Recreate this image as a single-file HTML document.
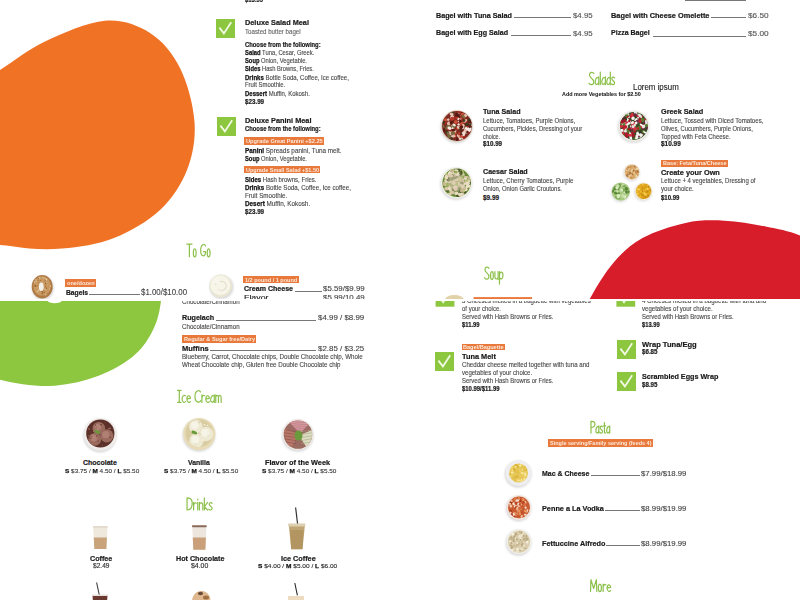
<!DOCTYPE html><html><head><meta charset="utf-8"><style>
*{margin:0;padding:0;box-sizing:border-box}
html,body{width:800px;height:600px;overflow:hidden;background:#fff}
body{position:relative;font-family:"Liberation Sans",sans-serif;}
.tile{position:absolute;overflow:hidden;left:0;width:800px}
.inner{position:absolute;left:0;width:800px;height:600px}
.t{position:absolute;white-space:nowrap;line-height:0;transform-origin:0 0}
.t b{font-weight:bold;color:#141414;-webkit-text-stroke:0.25px #141414}
.h{position:absolute;white-space:nowrap;line-height:0;transform-origin:0 0;color:#8cc43f}
.bd{position:absolute;background:#e8793a;color:#fbe9dc;font-weight:bold;white-space:nowrap;overflow:hidden;line-height:0}
.bd span{position:absolute;left:1.5px;transform-origin:0 0}
.ld{position:absolute;height:1px;background:#777}
svg{position:absolute;overflow:visible}
</style></head><body>
<div class="tile" style="top:0;height:299px"><div class="inner" style="top:0">
<svg style="left:0;top:0" width="0" height="0"><defs><filter id="blur" x="-50%" y="-50%" width="200%" height="200%"><feGaussianBlur stdDeviation="1.2"/></filter><filter id="blur2" x="-50%" y="-50%" width="200%" height="200%"><feGaussianBlur stdDeviation="0.6"/></filter></defs></svg>
<svg style="left:0;top:0" width="800" height="600"><path d="M -40.00 95.00 C -30.00 80.00, -14.17 78.92, 0.00 70.00 C 14.17 61.08, 27.50 49.70, 45.00 41.50 C 62.50 33.30, 87.50 22.22, 105.00 20.80 C 122.50 19.38, 137.50 25.13, 150.00 33.00 C 162.50 40.87, 172.58 53.17, 180.00 68.00 C 187.42 82.83, 193.33 105.00, 194.50 122.00 C 195.67 139.00, 192.75 155.33, 187.00 170.00 C 181.25 184.67, 172.17 198.67, 160.00 210.00 C 147.83 221.33, 130.33 231.57, 114.00 238.00 C 97.67 244.43, 79.00 247.22, 62.00 248.60 C 45.00 249.98, 29.00 249.07, 12.00 246.30 C -5.00 243.53, -28.00 246.38, -40.00 232.00 C -52.00 217.62, -60.00 182.83, -60.00 160.00 C -60.00 137.17, -50.00 110.00, -40.00 95.00 Z" fill="#f07225"/></svg>
<svg style="left:0;top:0" width="800" height="600"><path d="M 570.00 340.00 C 525.00 334.73, 582.72 311.33, 590.00 298.40 C 597.28 285.47, 604.95 272.47, 613.70 262.40 C 622.45 252.33, 630.52 244.58, 642.50 238.00 C 654.48 231.42, 671.95 225.78, 685.60 222.90 C 699.25 220.02, 711.07 220.10, 724.40 220.70 C 737.73 221.30, 753.00 224.05, 765.60 226.50 C 778.20 228.95, 787.60 230.65, 800.00 235.40 C 812.40 240.15, 830.00 239.23, 840.00 255.00 C 850.00 270.77, 905.00 315.83, 860.00 330.00 C 815.00 344.17, 615.00 345.27, 570.00 340.00 Z" fill="#d71c2a"/></svg>
<svg style="left:0;top:0" width="800" height="600"><ellipse cx="42.8" cy="288" rx="11" ry="12.2" fill="rgba(0,0,0,0.14)" filter="url(#blur)"/><ellipse cx="42.2" cy="286.8" rx="10.5" ry="11.7" fill="#b07a45"/><ellipse cx="42" cy="286" rx="8.6" ry="9.8" fill="#c89a62" filter="url(#blur2)"/><ellipse cx="41.25" cy="288.00" rx="0.73" ry="0.83" fill="#e8d0a8" transform="rotate(34 41.25 288.00)"/><ellipse cx="48.28" cy="286.32" rx="0.90" ry="0.45" fill="#c08850" transform="rotate(55 48.28 286.32)"/><ellipse cx="45.28" cy="289.11" rx="0.81" ry="0.82" fill="#dcc090" transform="rotate(11 45.28 289.11)"/><ellipse cx="44.19" cy="292.36" rx="0.72" ry="0.82" fill="#9a6030" transform="rotate(93 44.19 292.36)"/><ellipse cx="45.01" cy="286.80" rx="0.73" ry="0.54" fill="#a06838" transform="rotate(180 45.01 286.80)"/><ellipse cx="46.36" cy="283.11" rx="0.76" ry="0.41" fill="#dcc090" transform="rotate(101 46.36 283.11)"/><ellipse cx="38.02" cy="278.14" rx="0.92" ry="0.40" fill="#a06838" transform="rotate(38 38.02 278.14)"/><ellipse cx="50.41" cy="286.20" rx="0.71" ry="0.68" fill="#e8d0a8" transform="rotate(36 50.41 286.20)"/><ellipse cx="45.70" cy="283.54" rx="0.67" ry="0.88" fill="#9a6030" transform="rotate(136 45.70 283.54)"/><ellipse cx="34.56" cy="281.73" rx="0.51" ry="0.63" fill="#a06838" transform="rotate(88 34.56 281.73)"/><ellipse cx="45.84" cy="280.57" rx="0.60" ry="0.77" fill="#c08850" transform="rotate(24 45.84 280.57)"/><ellipse cx="45.07" cy="279.13" rx="1.00" ry="0.40" fill="#e8d0a8" transform="rotate(156 45.07 279.13)"/><ellipse cx="51.70" cy="288.65" rx="0.61" ry="0.60" fill="#a06838" transform="rotate(154 51.70 288.65)"/><ellipse cx="45.04" cy="278.81" rx="0.61" ry="0.53" fill="#dcc090" transform="rotate(139 45.04 278.81)"/><ellipse cx="38.78" cy="282.73" rx="0.54" ry="0.50" fill="#a06838" transform="rotate(115 38.78 282.73)"/><ellipse cx="44.64" cy="279.34" rx="0.74" ry="0.69" fill="#c08850" transform="rotate(156 44.64 279.34)"/><ellipse cx="35.86" cy="279.88" rx="0.91" ry="0.52" fill="#dcc090" transform="rotate(34 35.86 279.88)"/><ellipse cx="49.84" cy="288.87" rx="0.52" ry="0.45" fill="#e8d0a8" transform="rotate(92 49.84 288.87)"/><ellipse cx="37.30" cy="291.60" rx="0.63" ry="0.81" fill="#e8d0a8" transform="rotate(107 37.30 291.60)"/><ellipse cx="38.07" cy="280.31" rx="0.56" ry="0.64" fill="#a06838" transform="rotate(118 38.07 280.31)"/><ellipse cx="44.52" cy="278.28" rx="0.96" ry="0.50" fill="#dcc090" transform="rotate(3 44.52 278.28)"/><ellipse cx="37.58" cy="285.71" rx="0.52" ry="0.54" fill="#a06838" transform="rotate(96 37.58 285.71)"/><ellipse cx="34.97" cy="285.81" rx="0.83" ry="0.75" fill="#9a6030" transform="rotate(105 34.97 285.81)"/><ellipse cx="41.84" cy="291.41" rx="0.57" ry="0.44" fill="#9a6030" transform="rotate(82 41.84 291.41)"/><ellipse cx="39.56" cy="277.69" rx="0.90" ry="0.86" fill="#dcc090" transform="rotate(63 39.56 277.69)"/><ellipse cx="45.90" cy="294.82" rx="0.97" ry="0.42" fill="#e8d0a8" transform="rotate(90 45.90 294.82)"/><ellipse cx="34.51" cy="281.94" rx="0.86" ry="0.59" fill="#e8d0a8" transform="rotate(132 34.51 281.94)"/><ellipse cx="43.82" cy="285.61" rx="0.54" ry="0.78" fill="#c08850" transform="rotate(5 43.82 285.61)"/><ellipse cx="44.23" cy="286.42" rx="0.98" ry="0.46" fill="#dcc090" transform="rotate(140 44.23 286.42)"/><ellipse cx="45.40" cy="286.53" rx="0.68" ry="0.47" fill="#a06838" transform="rotate(110 45.40 286.53)"/><ellipse cx="42.57" cy="291.88" rx="0.83" ry="0.62" fill="#9a6030" transform="rotate(161 42.57 291.88)"/><ellipse cx="38.74" cy="290.12" rx="0.82" ry="0.80" fill="#dcc090" transform="rotate(136 38.74 290.12)"/><ellipse cx="36.21" cy="281.08" rx="0.79" ry="0.56" fill="#dcc090" transform="rotate(25 36.21 281.08)"/><ellipse cx="42.13" cy="293.54" rx="0.86" ry="0.88" fill="#a06838" transform="rotate(50 42.13 293.54)"/><ellipse cx="35.58" cy="285.81" rx="0.96" ry="0.82" fill="#9a6030" transform="rotate(69 35.58 285.81)"/><ellipse cx="42.60" cy="290.24" rx="0.73" ry="0.44" fill="#c08850" transform="rotate(6 42.60 290.24)"/><ellipse cx="46.37" cy="288.21" rx="0.82" ry="0.68" fill="#9a6030" transform="rotate(115 46.37 288.21)"/><ellipse cx="40.30" cy="280.60" rx="0.62" ry="0.47" fill="#9a6030" transform="rotate(8 40.30 280.60)"/><ellipse cx="44.78" cy="285.73" rx="0.83" ry="0.80" fill="#c08850" transform="rotate(173 44.78 285.73)"/><ellipse cx="45.89" cy="280.79" rx="0.63" ry="0.76" fill="#e8d0a8" transform="rotate(136 45.89 280.79)"/><ellipse cx="42.90" cy="277.52" rx="0.64" ry="0.57" fill="#dcc090" transform="rotate(126 42.90 277.52)"/><ellipse cx="42.61" cy="289.09" rx="0.70" ry="0.80" fill="#dcc090" transform="rotate(163 42.61 289.09)"/><ellipse cx="46.65" cy="279.40" rx="0.60" ry="0.84" fill="#e8d0a8" transform="rotate(1 46.65 279.40)"/><ellipse cx="43.20" cy="289.85" rx="0.90" ry="0.87" fill="#c08850" transform="rotate(83 43.20 289.85)"/><ellipse cx="45.23" cy="280.90" rx="0.61" ry="0.85" fill="#a06838" transform="rotate(176 45.23 280.90)"/><ellipse cx="41.3" cy="286.7" rx="2.4" ry="4.3" fill="#f2f0e8"/></svg>
<svg style="left:0;top:0" width="800" height="600"><circle cx="221.5" cy="287.2" r="11.8" fill="rgba(0,0,0,0.16)" filter="url(#blur)"/><circle cx="220.8" cy="286" r="11.4" fill="#e8e6d2"/><circle cx="220.3" cy="285.3" r="10" fill="#f6f5e8" filter="url(#blur2)"/><path d="M215 285 C 217 280, 225 280, 226 285 C 227 290, 221 292, 218.5 289" fill="none" stroke="#e2dfcc" stroke-width="1.1" filter="url(#blur2)"/><circle cx="217" cy="281" r="2.6" fill="#f8f7ee" filter="url(#blur2)"/></svg>
<svg style="left:0;top:0" width="800" height="600"><ellipse cx="454.4" cy="299.8" rx="9.6" ry="4.8" fill="#e2d2a8" filter="url(#blur2)"/><rect x="473.5" y="297.1" width="58.5" height="1.9" fill="#e8793a"/></svg>
<svg style="left:0;top:0" width="800" height="600"><defs><clipPath id="c1"><circle cx="457.00" cy="126.00" r="14.90"/></clipPath></defs><circle cx="456.50" cy="127.20" r="16.00" fill="rgba(0,0,0,0.15)" filter="url(#blur)"/><circle cx="457.00" cy="126.00" r="15.70" fill="#e0c8b8"/><circle cx="457.00" cy="126.00" r="14.90" fill="#7a2c22"/><g clip-path="url(#c1)"><ellipse cx="464.86" cy="118.70" rx="2.03" ry="1.46" fill="#a02a20" transform="rotate(68 464.86 118.70)"/><ellipse cx="448.36" cy="125.64" rx="1.65" ry="1.80" fill="#7a6a40" transform="rotate(0 448.36 125.64)"/><ellipse cx="455.37" cy="132.60" rx="1.83" ry="1.04" fill="#c85038" transform="rotate(57 455.37 132.60)"/><ellipse cx="463.73" cy="126.82" rx="2.23" ry="1.56" fill="#a02a20" transform="rotate(62 463.73 126.82)"/><ellipse cx="462.27" cy="133.78" rx="2.22" ry="1.40" fill="#5a1a14" transform="rotate(165 462.27 133.78)"/><ellipse cx="460.85" cy="132.66" rx="1.29" ry="1.30" fill="#5a1a14" transform="rotate(130 460.85 132.66)"/><ellipse cx="454.68" cy="135.84" rx="1.50" ry="1.60" fill="#c85038" transform="rotate(159 454.68 135.84)"/><ellipse cx="467.32" cy="126.16" rx="1.70" ry="1.78" fill="#b83a2a" transform="rotate(73 467.32 126.16)"/><ellipse cx="461.91" cy="122.04" rx="1.25" ry="1.68" fill="#f4ece6" transform="rotate(19 461.91 122.04)"/><ellipse cx="453.14" cy="132.94" rx="1.20" ry="1.73" fill="#a02a20" transform="rotate(177 453.14 132.94)"/><ellipse cx="459.78" cy="122.83" rx="1.34" ry="1.18" fill="#3a3a20" transform="rotate(2 459.78 122.83)"/><ellipse cx="458.44" cy="123.15" rx="2.25" ry="1.58" fill="#f4ece6" transform="rotate(83 458.44 123.15)"/><ellipse cx="450.12" cy="127.43" rx="1.59" ry="1.91" fill="#b83a2a" transform="rotate(172 450.12 127.43)"/><ellipse cx="470.07" cy="126.37" rx="1.75" ry="1.57" fill="#3a3a20" transform="rotate(77 470.07 126.37)"/><ellipse cx="459.09" cy="117.06" rx="1.63" ry="1.86" fill="#e8c0b0" transform="rotate(75 459.09 117.06)"/><ellipse cx="465.54" cy="120.97" rx="2.08" ry="1.65" fill="#b83a2a" transform="rotate(99 465.54 120.97)"/><ellipse cx="458.52" cy="136.47" rx="1.19" ry="2.01" fill="#5a1a14" transform="rotate(13 458.52 136.47)"/><ellipse cx="467.97" cy="124.60" rx="1.44" ry="1.05" fill="#5a1a14" transform="rotate(112 467.97 124.60)"/><ellipse cx="452.36" cy="113.17" rx="1.44" ry="2.01" fill="#3a3a20" transform="rotate(118 452.36 113.17)"/><ellipse cx="461.42" cy="119.88" rx="1.72" ry="1.05" fill="#f4ece6" transform="rotate(56 461.42 119.88)"/><ellipse cx="452.33" cy="134.83" rx="1.28" ry="1.95" fill="#5a1a14" transform="rotate(92 452.33 134.83)"/><ellipse cx="448.33" cy="129.15" rx="1.41" ry="1.38" fill="#b83a2a" transform="rotate(6 448.33 129.15)"/><ellipse cx="470.70" cy="124.38" rx="1.93" ry="1.55" fill="#e8c0b0" transform="rotate(40 470.70 124.38)"/><ellipse cx="457.49" cy="117.75" rx="1.60" ry="1.58" fill="#b83a2a" transform="rotate(58 457.49 117.75)"/><ellipse cx="460.90" cy="112.85" rx="1.29" ry="1.16" fill="#5a1a14" transform="rotate(9 460.90 112.85)"/><ellipse cx="469.43" cy="119.98" rx="1.63" ry="1.21" fill="#3a3a20" transform="rotate(2 469.43 119.98)"/><ellipse cx="459.09" cy="116.21" rx="1.19" ry="1.15" fill="#e8c0b0" transform="rotate(18 459.09 116.21)"/><ellipse cx="459.19" cy="137.82" rx="1.72" ry="2.00" fill="#c85038" transform="rotate(70 459.19 137.82)"/><ellipse cx="460.34" cy="123.09" rx="1.17" ry="1.15" fill="#5a1a14" transform="rotate(59 460.34 123.09)"/><ellipse cx="452.21" cy="117.45" rx="2.11" ry="1.99" fill="#ecdcd4" transform="rotate(62 452.21 117.45)"/><ellipse cx="468.40" cy="131.58" rx="2.03" ry="1.53" fill="#a02a20" transform="rotate(12 468.40 131.58)"/><ellipse cx="447.06" cy="127.14" rx="2.02" ry="1.61" fill="#5a1a14" transform="rotate(151 447.06 127.14)"/><ellipse cx="453.07" cy="121.24" rx="1.42" ry="2.01" fill="#5a1a14" transform="rotate(140 453.07 121.24)"/><ellipse cx="463.41" cy="125.67" rx="2.04" ry="1.29" fill="#e8c0b0" transform="rotate(73 463.41 125.67)"/><ellipse cx="445.52" cy="128.60" rx="1.24" ry="1.55" fill="#7a6a40" transform="rotate(102 445.52 128.60)"/><ellipse cx="470.48" cy="121.97" rx="1.80" ry="1.98" fill="#5a1a14" transform="rotate(82 470.48 121.97)"/><ellipse cx="450.36" cy="134.55" rx="1.16" ry="1.69" fill="#5a1a14" transform="rotate(17 450.36 134.55)"/><ellipse cx="449.29" cy="133.27" rx="1.65" ry="2.03" fill="#ecdcd4" transform="rotate(145 449.29 133.27)"/><ellipse cx="458.28" cy="135.49" rx="1.44" ry="1.47" fill="#e8c0b0" transform="rotate(18 458.28 135.49)"/><ellipse cx="450.91" cy="128.88" rx="1.60" ry="1.38" fill="#a02a20" transform="rotate(12 450.91 128.88)"/><ellipse cx="451.56" cy="129.02" rx="1.28" ry="1.17" fill="#a02a20" transform="rotate(111 451.56 129.02)"/><ellipse cx="462.61" cy="130.82" rx="1.36" ry="1.16" fill="#5a1a14" transform="rotate(36 462.61 130.82)"/><ellipse cx="452.84" cy="135.54" rx="2.28" ry="1.44" fill="#ecdcd4" transform="rotate(117 452.84 135.54)"/><ellipse cx="461.28" cy="139.13" rx="2.26" ry="0.97" fill="#7a6a40" transform="rotate(34 461.28 139.13)"/><ellipse cx="465.72" cy="128.35" rx="1.43" ry="1.04" fill="#5a1a14" transform="rotate(110 465.72 128.35)"/><ellipse cx="448.66" cy="135.19" rx="1.23" ry="1.55" fill="#7a6a40" transform="rotate(13 448.66 135.19)"/><ellipse cx="444.34" cy="130.03" rx="2.01" ry="1.33" fill="#5a1a14" transform="rotate(84 444.34 130.03)"/><ellipse cx="465.28" cy="120.88" rx="2.24" ry="1.12" fill="#e8c0b0" transform="rotate(140 465.28 120.88)"/><ellipse cx="451.63" cy="114.28" rx="2.11" ry="1.61" fill="#e8c0b0" transform="rotate(23 451.63 114.28)"/><ellipse cx="448.26" cy="127.36" rx="2.05" ry="1.86" fill="#b83a2a" transform="rotate(112 448.26 127.36)"/><ellipse cx="462.13" cy="127.58" rx="1.35" ry="1.42" fill="#c85038" transform="rotate(28 462.13 127.58)"/><ellipse cx="463.40" cy="131.00" rx="2.04" ry="1.70" fill="#5a1a14" transform="rotate(80 463.40 131.00)"/><ellipse cx="454.92" cy="118.56" rx="2.13" ry="1.44" fill="#a02a20" transform="rotate(71 454.92 118.56)"/><ellipse cx="452.19" cy="118.79" rx="2.06" ry="1.99" fill="#b83a2a" transform="rotate(176 452.19 118.79)"/><ellipse cx="459.39" cy="128.79" rx="1.45" ry="1.87" fill="#3a3a20" transform="rotate(72 459.39 128.79)"/><ellipse cx="454.05" cy="129.35" rx="1.71" ry="1.12" fill="#c85038" transform="rotate(57 454.05 129.35)"/><ellipse cx="469.82" cy="130.15" rx="1.42" ry="1.49" fill="#c85038" transform="rotate(86 469.82 130.15)"/><ellipse cx="448.81" cy="123.38" rx="1.85" ry="1.76" fill="#e8c0b0" transform="rotate(118 448.81 123.38)"/><ellipse cx="461.33" cy="122.09" rx="2.03" ry="1.94" fill="#e8c0b0" transform="rotate(56 461.33 122.09)"/><ellipse cx="462.74" cy="136.40" rx="1.34" ry="1.73" fill="#f4ece6" transform="rotate(84 462.74 136.40)"/><ellipse cx="460.16" cy="126.42" rx="1.35" ry="1.21" fill="#7a6a40" transform="rotate(39 460.16 126.42)"/><ellipse cx="459.07" cy="133.68" rx="1.72" ry="1.37" fill="#b83a2a" transform="rotate(115 459.07 133.68)"/><ellipse cx="453.54" cy="136.29" rx="1.99" ry="0.97" fill="#e8c0b0" transform="rotate(177 453.54 136.29)"/><ellipse cx="466.18" cy="129.83" rx="2.00" ry="1.02" fill="#5a1a14" transform="rotate(175 466.18 129.83)"/><ellipse cx="449.28" cy="136.46" rx="1.61" ry="1.97" fill="#7a6a40" transform="rotate(79 449.28 136.46)"/><ellipse cx="460.65" cy="125.64" rx="1.29" ry="1.61" fill="#c85038" transform="rotate(73 460.65 125.64)"/><ellipse cx="445.62" cy="119.91" rx="1.59" ry="1.56" fill="#c85038" transform="rotate(173 445.62 119.91)"/><ellipse cx="457.85" cy="128.36" rx="1.87" ry="1.62" fill="#b83a2a" transform="rotate(150 457.85 128.36)"/><ellipse cx="448.26" cy="119.59" rx="1.38" ry="1.28" fill="#e8c0b0" transform="rotate(136 448.26 119.59)"/><ellipse cx="466.90" cy="124.40" rx="1.78" ry="1.48" fill="#3a3a20" transform="rotate(154 466.90 124.40)"/><ellipse cx="465.02" cy="128.10" rx="1.39" ry="1.85" fill="#7a6a40" transform="rotate(163 465.02 128.10)"/><ellipse cx="462.18" cy="132.68" rx="1.24" ry="1.35" fill="#3a3a20" transform="rotate(145 462.18 132.68)"/><ellipse cx="455.13" cy="131.28" rx="1.52" ry="1.06" fill="#e8c0b0" transform="rotate(129 455.13 131.28)"/><ellipse cx="452.54" cy="127.17" rx="2.05" ry="1.71" fill="#f4ece6" transform="rotate(89 452.54 127.17)"/><ellipse cx="461.40" cy="122.35" rx="1.79" ry="2.06" fill="#c85038" transform="rotate(114 461.40 122.35)"/><ellipse cx="463.62" cy="133.11" rx="1.38" ry="1.98" fill="#e8c0b0" transform="rotate(108 463.62 133.11)"/><ellipse cx="457.50" cy="139.04" rx="1.96" ry="1.44" fill="#5a1a14" transform="rotate(120 457.50 139.04)"/><ellipse cx="447.98" cy="126.78" rx="1.82" ry="2.04" fill="#7a6a40" transform="rotate(60 447.98 126.78)"/><ellipse cx="463.59" cy="115.75" rx="2.05" ry="1.89" fill="#7a6a40" transform="rotate(138 463.59 115.75)"/><ellipse cx="466.40" cy="129.14" rx="2.20" ry="1.84" fill="#f4ece6" transform="rotate(74 466.40 129.14)"/><ellipse cx="462.51" cy="120.15" rx="2.11" ry="1.48" fill="#a02a20" transform="rotate(84 462.51 120.15)"/><ellipse cx="443.45" cy="126.31" rx="1.23" ry="1.00" fill="#7a6a40" transform="rotate(80 443.45 126.31)"/><ellipse cx="446.99" cy="132.27" rx="1.94" ry="1.38" fill="#3a3a20" transform="rotate(124 446.99 132.27)"/><ellipse cx="460.13" cy="117.32" rx="1.42" ry="1.30" fill="#c85038" transform="rotate(12 460.13 117.32)"/><ellipse cx="462.94" cy="138.23" rx="1.69" ry="1.56" fill="#f4ece6" transform="rotate(9 462.94 138.23)"/><ellipse cx="450.95" cy="133.01" rx="1.46" ry="1.62" fill="#e8c0b0" transform="rotate(42 450.95 133.01)"/><ellipse cx="458.82" cy="116.24" rx="2.15" ry="1.30" fill="#5a1a14" transform="rotate(40 458.82 116.24)"/><ellipse cx="468.90" cy="129.65" rx="2.22" ry="1.99" fill="#f4ece6" transform="rotate(45 468.90 129.65)"/><ellipse cx="463.92" cy="137.06" rx="1.82" ry="1.99" fill="#a02a20" transform="rotate(27 463.92 137.06)"/><ellipse cx="470.28" cy="124.79" rx="1.31" ry="1.08" fill="#3a3a20" transform="rotate(129 470.28 124.79)"/><ellipse cx="452.86" cy="133.49" rx="1.28" ry="1.16" fill="#c85038" transform="rotate(123 452.86 133.49)"/><ellipse cx="451.68" cy="138.77" rx="1.20" ry="1.85" fill="#3a3a20" transform="rotate(4 451.68 138.77)"/><ellipse cx="464.52" cy="131.46" rx="1.96" ry="1.86" fill="#a02a20" transform="rotate(174 464.52 131.46)"/><ellipse cx="460.37" cy="121.30" rx="1.29" ry="1.72" fill="#5a1a14" transform="rotate(17 460.37 121.30)"/><ellipse cx="454.01" cy="125.85" rx="2.01" ry="2.04" fill="#7a6a40" transform="rotate(42 454.01 125.85)"/><ellipse cx="450.55" cy="127.40" rx="1.39" ry="1.74" fill="#7a6a40" transform="rotate(59 450.55 127.40)"/><ellipse cx="459.79" cy="138.20" rx="1.20" ry="1.84" fill="#ecdcd4" transform="rotate(154 459.79 138.20)"/><ellipse cx="451.62" cy="122.52" rx="2.21" ry="1.38" fill="#5a1a14" transform="rotate(158 451.62 122.52)"/><ellipse cx="464.71" cy="115.64" rx="1.17" ry="1.09" fill="#b83a2a" transform="rotate(120 464.71 115.64)"/><ellipse cx="443.80" cy="122.41" rx="1.24" ry="1.67" fill="#3a3a20" transform="rotate(55 443.80 122.41)"/><ellipse cx="457.74" cy="114.94" rx="2.05" ry="1.42" fill="#5a1a14" transform="rotate(34 457.74 114.94)"/><ellipse cx="456.99" cy="114.98" rx="1.94" ry="1.89" fill="#5a1a14" transform="rotate(119 456.99 114.98)"/><ellipse cx="453.71" cy="129.91" rx="1.89" ry="1.20" fill="#5a1a14" transform="rotate(11 453.71 129.91)"/><ellipse cx="469.97" cy="128.70" rx="1.64" ry="1.72" fill="#f4ece6" transform="rotate(115 469.97 128.70)"/><ellipse cx="458.40" cy="127.14" rx="1.64" ry="1.68" fill="#e8c0b0" transform="rotate(128 458.40 127.14)"/><ellipse cx="464.25" cy="132.59" rx="1.44" ry="2.04" fill="#ecdcd4" transform="rotate(27 464.25 132.59)"/><ellipse cx="456.08" cy="122.13" rx="1.20" ry="1.53" fill="#f4ece6" transform="rotate(80 456.08 122.13)"/><ellipse cx="445.92" cy="122.88" rx="1.18" ry="1.52" fill="#a02a20" transform="rotate(16 445.92 122.88)"/><ellipse cx="463.93" cy="120.43" rx="1.45" ry="1.36" fill="#3a3a20" transform="rotate(21 463.93 120.43)"/><ellipse cx="462.30" cy="113.90" rx="1.73" ry="1.16" fill="#c85038" transform="rotate(166 462.30 113.90)"/><ellipse cx="457.28" cy="122.75" rx="1.27" ry="1.67" fill="#a02a20" transform="rotate(81 457.28 122.75)"/><ellipse cx="466.98" cy="132.00" rx="1.18" ry="2.05" fill="#e8c0b0" transform="rotate(178 466.98 132.00)"/><ellipse cx="464.25" cy="117.06" rx="1.75" ry="1.03" fill="#7a6a40" transform="rotate(62 464.25 117.06)"/><ellipse cx="459.23" cy="112.40" rx="1.51" ry="1.26" fill="#e8c0b0" transform="rotate(63 459.23 112.40)"/><ellipse cx="451.79" cy="133.41" rx="1.16" ry="1.06" fill="#e8c0b0" transform="rotate(57 451.79 133.41)"/><ellipse cx="463.76" cy="134.48" rx="1.67" ry="1.24" fill="#ecdcd4" transform="rotate(82 463.76 134.48)"/><ellipse cx="452.95" cy="133.20" rx="2.09" ry="1.98" fill="#7a6a40" transform="rotate(166 452.95 133.20)"/><ellipse cx="465.98" cy="115.11" rx="1.72" ry="1.90" fill="#e8c0b0" transform="rotate(45 465.98 115.11)"/><ellipse cx="449.41" cy="128.20" rx="1.57" ry="2.00" fill="#f4ece6" transform="rotate(116 449.41 128.20)"/><ellipse cx="454.10" cy="124.94" rx="1.76" ry="1.11" fill="#f4ece6" transform="rotate(27 454.10 124.94)"/><ellipse cx="462.58" cy="127.87" rx="1.36" ry="1.39" fill="#ecdcd4" transform="rotate(131 462.58 127.87)"/><ellipse cx="458.36" cy="119.02" rx="1.38" ry="1.00" fill="#ecdcd4" transform="rotate(103 458.36 119.02)"/><ellipse cx="461.20" cy="136.58" rx="1.89" ry="1.12" fill="#c85038" transform="rotate(155 461.20 136.58)"/><ellipse cx="467.36" cy="132.27" rx="1.40" ry="1.15" fill="#5a1a14" transform="rotate(89 467.36 132.27)"/><ellipse cx="455.58" cy="122.04" rx="2.07" ry="1.75" fill="#c85038" transform="rotate(147 455.58 122.04)"/><ellipse cx="448.10" cy="133.35" rx="1.74" ry="1.48" fill="#7a6a40" transform="rotate(73 448.10 133.35)"/><ellipse cx="459.52" cy="112.30" rx="1.16" ry="2.02" fill="#a02a20" transform="rotate(125 459.52 112.30)"/><ellipse cx="461.23" cy="127.22" rx="1.74" ry="2.06" fill="#5a1a14" transform="rotate(57 461.23 127.22)"/><ellipse cx="465.24" cy="130.32" rx="1.47" ry="1.39" fill="#e8c0b0" transform="rotate(169 465.24 130.32)"/><ellipse cx="469.72" cy="126.53" rx="1.67" ry="1.07" fill="#5a1a14" transform="rotate(80 469.72 126.53)"/></g></svg>
<svg style="left:0;top:0" width="800" height="600"><defs><clipPath id="c2"><circle cx="456.60" cy="182.80" r="14.20"/></clipPath></defs><circle cx="456.10" cy="184.00" r="15.90" fill="rgba(0,0,0,0.15)" filter="url(#blur)"/><circle cx="456.60" cy="182.80" r="15.60" fill="#f0f0e6"/><circle cx="456.60" cy="182.80" r="14.20" fill="#6a8a3a"/><g clip-path="url(#c2)"><ellipse cx="466.13" cy="189.50" rx="1.63" ry="1.32" fill="#b8c078" transform="rotate(6 466.13 189.50)"/><ellipse cx="460.53" cy="191.42" rx="2.01" ry="1.62" fill="#c8b890" transform="rotate(48 460.53 191.42)"/><ellipse cx="455.60" cy="177.64" rx="1.85" ry="2.19" fill="#4a5a28" transform="rotate(30 455.60 177.64)"/><ellipse cx="447.44" cy="175.15" rx="1.72" ry="1.22" fill="#8aa848" transform="rotate(92 447.44 175.15)"/><ellipse cx="465.03" cy="189.46" rx="2.33" ry="1.50" fill="#c8b890" transform="rotate(177 465.03 189.46)"/><ellipse cx="463.81" cy="188.91" rx="2.15" ry="1.36" fill="#e0d4b8" transform="rotate(50 463.81 188.91)"/><ellipse cx="456.55" cy="183.24" rx="2.16" ry="1.63" fill="#c8b890" transform="rotate(163 456.55 183.24)"/><ellipse cx="452.36" cy="189.22" rx="1.93" ry="1.33" fill="#e0d4b8" transform="rotate(58 452.36 189.22)"/><ellipse cx="462.27" cy="173.32" rx="2.30" ry="1.66" fill="#b8c078" transform="rotate(55 462.27 173.32)"/><ellipse cx="465.10" cy="192.20" rx="1.71" ry="1.31" fill="#4a5a28" transform="rotate(92 465.10 192.20)"/><ellipse cx="468.93" cy="186.30" rx="2.32" ry="1.48" fill="#e8dcc0" transform="rotate(2 468.93 186.30)"/><ellipse cx="445.41" cy="184.91" rx="1.66" ry="1.33" fill="#d8c8a8" transform="rotate(158 445.41 184.91)"/><ellipse cx="445.42" cy="183.44" rx="1.62" ry="1.31" fill="#b8c078" transform="rotate(159 445.42 183.44)"/><ellipse cx="454.41" cy="188.96" rx="1.37" ry="1.51" fill="#d8c8a8" transform="rotate(45 454.41 188.96)"/><ellipse cx="468.49" cy="179.20" rx="2.36" ry="1.24" fill="#8aa848" transform="rotate(33 468.49 179.20)"/><ellipse cx="462.04" cy="179.55" rx="2.33" ry="1.36" fill="#d8c8a8" transform="rotate(175 462.04 179.55)"/><ellipse cx="460.23" cy="189.83" rx="1.74" ry="1.08" fill="#b8c078" transform="rotate(81 460.23 189.83)"/><ellipse cx="464.15" cy="189.61" rx="2.28" ry="2.16" fill="#b8c078" transform="rotate(127 464.15 189.61)"/><ellipse cx="455.83" cy="175.00" rx="2.39" ry="1.07" fill="#c8b890" transform="rotate(142 455.83 175.00)"/><ellipse cx="469.33" cy="183.32" rx="1.93" ry="1.47" fill="#4a5a28" transform="rotate(157 469.33 183.32)"/><ellipse cx="452.09" cy="176.04" rx="2.15" ry="1.95" fill="#4a5a28" transform="rotate(173 452.09 176.04)"/><ellipse cx="461.44" cy="175.78" rx="1.51" ry="1.16" fill="#8aa848" transform="rotate(114 461.44 175.78)"/><ellipse cx="449.00" cy="181.23" rx="1.40" ry="1.34" fill="#b8c078" transform="rotate(142 449.00 181.23)"/><ellipse cx="460.12" cy="178.82" rx="1.66" ry="2.02" fill="#4a5a28" transform="rotate(27 460.12 178.82)"/><ellipse cx="453.33" cy="173.15" rx="1.61" ry="1.17" fill="#e8dcc0" transform="rotate(33 453.33 173.15)"/><ellipse cx="448.98" cy="174.77" rx="1.89" ry="1.74" fill="#e0d4b8" transform="rotate(68 448.98 174.77)"/><ellipse cx="461.85" cy="190.20" rx="2.25" ry="1.60" fill="#f0e4d0" transform="rotate(92 461.85 190.20)"/><ellipse cx="458.90" cy="170.06" rx="2.51" ry="1.80" fill="#4a5a28" transform="rotate(166 458.90 170.06)"/><ellipse cx="461.24" cy="182.23" rx="1.97" ry="2.24" fill="#d8c8a8" transform="rotate(110 461.24 182.23)"/><ellipse cx="461.86" cy="171.47" rx="1.56" ry="2.05" fill="#b8c078" transform="rotate(149 461.86 171.47)"/><ellipse cx="460.50" cy="181.76" rx="1.31" ry="1.07" fill="#e8dcc0" transform="rotate(55 460.50 181.76)"/><ellipse cx="462.95" cy="174.82" rx="1.55" ry="1.78" fill="#e0d4b8" transform="rotate(71 462.95 174.82)"/><ellipse cx="455.56" cy="190.00" rx="2.45" ry="1.37" fill="#4a5a28" transform="rotate(22 455.56 190.00)"/><ellipse cx="459.91" cy="178.10" rx="2.55" ry="1.94" fill="#4a5a28" transform="rotate(4 459.91 178.10)"/><ellipse cx="461.12" cy="190.67" rx="1.68" ry="2.29" fill="#e0d4b8" transform="rotate(25 461.12 190.67)"/><ellipse cx="453.05" cy="182.35" rx="2.24" ry="1.99" fill="#e0d4b8" transform="rotate(75 453.05 182.35)"/><ellipse cx="456.38" cy="187.92" rx="1.60" ry="1.68" fill="#4a5a28" transform="rotate(47 456.38 187.92)"/><ellipse cx="454.55" cy="187.89" rx="2.06" ry="2.10" fill="#e8dcc0" transform="rotate(17 454.55 187.89)"/><ellipse cx="446.56" cy="180.44" rx="2.34" ry="2.22" fill="#e8dcc0" transform="rotate(123 446.56 180.44)"/><ellipse cx="462.52" cy="193.74" rx="1.87" ry="1.72" fill="#c8b890" transform="rotate(20 462.52 193.74)"/><ellipse cx="457.76" cy="195.58" rx="1.43" ry="1.71" fill="#4a5a28" transform="rotate(129 457.76 195.58)"/><ellipse cx="449.71" cy="194.02" rx="2.53" ry="1.34" fill="#e0d4b8" transform="rotate(157 449.71 194.02)"/><ellipse cx="452.58" cy="190.31" rx="1.91" ry="1.97" fill="#8aa848" transform="rotate(146 452.58 190.31)"/><ellipse cx="453.28" cy="189.52" rx="1.96" ry="1.67" fill="#4a5a28" transform="rotate(73 453.28 189.52)"/><ellipse cx="462.43" cy="182.02" rx="2.23" ry="2.23" fill="#c8b890" transform="rotate(15 462.43 182.02)"/><ellipse cx="465.68" cy="189.21" rx="1.82" ry="1.91" fill="#f0e4d0" transform="rotate(176 465.68 189.21)"/><ellipse cx="455.59" cy="188.81" rx="2.15" ry="2.10" fill="#e0d4b8" transform="rotate(3 455.59 188.81)"/><ellipse cx="459.62" cy="194.31" rx="1.81" ry="1.77" fill="#e8dcc0" transform="rotate(144 459.62 194.31)"/><ellipse cx="458.88" cy="182.51" rx="1.31" ry="1.92" fill="#8aa848" transform="rotate(87 458.88 182.51)"/><ellipse cx="456.98" cy="173.53" rx="2.56" ry="2.03" fill="#f0e4d0" transform="rotate(63 456.98 173.53)"/><ellipse cx="468.12" cy="183.74" rx="2.28" ry="1.67" fill="#e8dcc0" transform="rotate(121 468.12 183.74)"/><ellipse cx="451.91" cy="176.18" rx="1.34" ry="1.14" fill="#e0d4b8" transform="rotate(136 451.91 176.18)"/><ellipse cx="447.33" cy="189.91" rx="1.63" ry="1.85" fill="#4a5a28" transform="rotate(150 447.33 189.91)"/><ellipse cx="461.59" cy="173.03" rx="2.02" ry="2.30" fill="#b8c078" transform="rotate(66 461.59 173.03)"/><ellipse cx="457.68" cy="179.46" rx="1.57" ry="1.92" fill="#e0d4b8" transform="rotate(90 457.68 179.46)"/><ellipse cx="446.19" cy="188.19" rx="1.40" ry="2.11" fill="#b8c078" transform="rotate(55 446.19 188.19)"/><ellipse cx="460.76" cy="191.20" rx="1.97" ry="2.24" fill="#4a5a28" transform="rotate(92 460.76 191.20)"/><ellipse cx="448.38" cy="185.53" rx="2.34" ry="1.86" fill="#8aa848" transform="rotate(55 448.38 185.53)"/><ellipse cx="449.01" cy="181.59" rx="1.98" ry="1.12" fill="#f0e4d0" transform="rotate(20 449.01 181.59)"/><ellipse cx="461.58" cy="190.96" rx="1.58" ry="1.50" fill="#c8b890" transform="rotate(60 461.58 190.96)"/><ellipse cx="452.70" cy="182.73" rx="1.90" ry="1.21" fill="#b8c078" transform="rotate(129 452.70 182.73)"/><ellipse cx="450.15" cy="173.12" rx="1.91" ry="2.02" fill="#f0e4d0" transform="rotate(152 450.15 173.12)"/><ellipse cx="446.24" cy="176.23" rx="1.82" ry="2.11" fill="#4a5a28" transform="rotate(62 446.24 176.23)"/><ellipse cx="456.67" cy="188.20" rx="2.27" ry="2.02" fill="#c8b890" transform="rotate(156 456.67 188.20)"/><ellipse cx="460.08" cy="187.65" rx="1.70" ry="1.67" fill="#c8b890" transform="rotate(46 460.08 187.65)"/><ellipse cx="468.00" cy="181.12" rx="2.46" ry="1.28" fill="#e8dcc0" transform="rotate(173 468.00 181.12)"/><ellipse cx="452.36" cy="178.80" rx="1.31" ry="1.46" fill="#4a5a28" transform="rotate(149 452.36 178.80)"/><ellipse cx="459.29" cy="183.97" rx="2.13" ry="1.24" fill="#e0d4b8" transform="rotate(57 459.29 183.97)"/><ellipse cx="446.44" cy="174.40" rx="1.48" ry="1.51" fill="#b8c078" transform="rotate(16 446.44 174.40)"/><ellipse cx="447.73" cy="188.69" rx="1.74" ry="1.52" fill="#d8c8a8" transform="rotate(138 447.73 188.69)"/><ellipse cx="466.56" cy="180.81" rx="1.47" ry="1.72" fill="#b8c078" transform="rotate(152 466.56 180.81)"/><ellipse cx="452.00" cy="190.42" rx="1.60" ry="1.11" fill="#4a5a28" transform="rotate(138 452.00 190.42)"/><ellipse cx="456.31" cy="193.35" rx="2.06" ry="1.74" fill="#e8dcc0" transform="rotate(177 456.31 193.35)"/><ellipse cx="455.31" cy="180.29" rx="1.36" ry="1.18" fill="#e0d4b8" transform="rotate(179 455.31 180.29)"/><ellipse cx="461.70" cy="194.59" rx="1.81" ry="1.64" fill="#e8dcc0" transform="rotate(127 461.70 194.59)"/><ellipse cx="449.58" cy="187.59" rx="1.53" ry="1.23" fill="#f0e4d0" transform="rotate(121 449.58 187.59)"/><ellipse cx="456.07" cy="184.47" rx="2.20" ry="1.74" fill="#8aa848" transform="rotate(9 456.07 184.47)"/><ellipse cx="465.52" cy="178.19" rx="1.48" ry="1.68" fill="#f0e4d0" transform="rotate(24 465.52 178.19)"/><ellipse cx="448.51" cy="179.37" rx="2.48" ry="1.97" fill="#4a5a28" transform="rotate(91 448.51 179.37)"/><ellipse cx="460.21" cy="174.57" rx="1.56" ry="1.48" fill="#4a5a28" transform="rotate(26 460.21 174.57)"/><ellipse cx="446.10" cy="177.51" rx="2.35" ry="1.77" fill="#b8c078" transform="rotate(85 446.10 177.51)"/><ellipse cx="450.48" cy="190.34" rx="1.60" ry="1.95" fill="#b8c078" transform="rotate(126 450.48 190.34)"/><ellipse cx="458.07" cy="174.34" rx="1.81" ry="1.09" fill="#f0e4d0" transform="rotate(25 458.07 174.34)"/><ellipse cx="462.90" cy="183.93" rx="2.39" ry="1.82" fill="#f0e4d0" transform="rotate(7 462.90 183.93)"/><ellipse cx="460.46" cy="184.06" rx="2.29" ry="1.16" fill="#8aa848" transform="rotate(124 460.46 184.06)"/><ellipse cx="467.06" cy="186.48" rx="1.50" ry="1.46" fill="#f0e4d0" transform="rotate(148 467.06 186.48)"/><ellipse cx="466.53" cy="183.32" rx="1.84" ry="1.58" fill="#e8dcc0" transform="rotate(130 466.53 183.32)"/><ellipse cx="455.33" cy="187.32" rx="2.13" ry="1.99" fill="#e8dcc0" transform="rotate(170 455.33 187.32)"/><ellipse cx="449.83" cy="189.27" rx="1.86" ry="1.21" fill="#f0e4d0" transform="rotate(31 449.83 189.27)"/><ellipse cx="459.80" cy="186.07" rx="1.88" ry="2.02" fill="#e0d4b8" transform="rotate(153 459.80 186.07)"/><ellipse cx="451.99" cy="170.61" rx="2.09" ry="2.16" fill="#c8b890" transform="rotate(40 451.99 170.61)"/><ellipse cx="459.89" cy="187.31" rx="2.19" ry="1.44" fill="#8aa848" transform="rotate(37 459.89 187.31)"/><ellipse cx="466.17" cy="177.10" rx="2.33" ry="1.08" fill="#d8c8a8" transform="rotate(178 466.17 177.10)"/><ellipse cx="444.06" cy="183.75" rx="2.37" ry="1.13" fill="#c8b890" transform="rotate(85 444.06 183.75)"/><ellipse cx="462.61" cy="176.63" rx="1.58" ry="1.25" fill="#8aa848" transform="rotate(139 462.61 176.63)"/><ellipse cx="462.88" cy="186.58" rx="2.49" ry="1.88" fill="#e0d4b8" transform="rotate(89 462.88 186.58)"/><ellipse cx="446.70" cy="177.10" rx="1.56" ry="1.95" fill="#f0e4d0" transform="rotate(157 446.70 177.10)"/><ellipse cx="459.19" cy="188.54" rx="1.61" ry="1.32" fill="#4a5a28" transform="rotate(11 459.19 188.54)"/><ellipse cx="461.30" cy="172.53" rx="2.37" ry="1.20" fill="#4a5a28" transform="rotate(82 461.30 172.53)"/><ellipse cx="450.49" cy="175.43" rx="1.99" ry="2.10" fill="#d8c8a8" transform="rotate(16 450.49 175.43)"/><ellipse cx="453.80" cy="183.22" rx="1.77" ry="1.51" fill="#e8dcc0" transform="rotate(170 453.80 183.22)"/><ellipse cx="456.39" cy="170.60" rx="2.25" ry="1.33" fill="#e0d4b8" transform="rotate(4 456.39 170.60)"/><ellipse cx="455.99" cy="172.27" rx="1.57" ry="1.35" fill="#8aa848" transform="rotate(9 455.99 172.27)"/><ellipse cx="446.51" cy="176.99" rx="2.13" ry="1.74" fill="#e8dcc0" transform="rotate(122 446.51 176.99)"/><ellipse cx="446.27" cy="188.69" rx="1.70" ry="1.90" fill="#d8c8a8" transform="rotate(85 446.27 188.69)"/><ellipse cx="469.22" cy="178.69" rx="2.19" ry="1.17" fill="#c8b890" transform="rotate(65 469.22 178.69)"/><ellipse cx="459.70" cy="178.49" rx="2.35" ry="2.20" fill="#b8c078" transform="rotate(92 459.70 178.49)"/><ellipse cx="452.07" cy="192.39" rx="1.75" ry="2.31" fill="#d8c8a8" transform="rotate(96 452.07 192.39)"/><ellipse cx="462.01" cy="182.99" rx="1.86" ry="1.35" fill="#4a5a28" transform="rotate(33 462.01 182.99)"/><ellipse cx="463.98" cy="189.03" rx="2.18" ry="1.42" fill="#c8b890" transform="rotate(163 463.98 189.03)"/></g></svg>
<svg style="left:0;top:0" width="800" height="600"><circle cx="456" cy="182.5" r="9" fill="#dccab0" opacity="0.6" filter="url(#blur)"/></svg>
<svg style="left:0;top:0" width="800" height="600"><defs><clipPath id="c3"><circle cx="634.00" cy="126.00" r="13.90"/></clipPath></defs><circle cx="633.50" cy="127.20" r="15.80" fill="rgba(0,0,0,0.15)" filter="url(#blur)"/><circle cx="634.00" cy="126.00" r="15.50" fill="#eeece6"/><circle cx="634.00" cy="126.00" r="13.90" fill="#3a4a26"/><g clip-path="url(#c3)"><ellipse cx="626.72" cy="127.23" rx="2.11" ry="1.40" fill="#fafafa" transform="rotate(105 626.72 127.23)"/><ellipse cx="636.94" cy="137.37" rx="1.39" ry="1.14" fill="#a01828" transform="rotate(179 636.94 137.37)"/><ellipse cx="633.17" cy="135.35" rx="1.54" ry="1.83" fill="#a01828" transform="rotate(42 633.17 135.35)"/><ellipse cx="641.71" cy="116.53" rx="1.43" ry="0.91" fill="#c02030" transform="rotate(156 641.71 116.53)"/><ellipse cx="633.24" cy="132.08" rx="1.89" ry="1.89" fill="#5a7a30" transform="rotate(71 633.24 132.08)"/><ellipse cx="642.37" cy="124.46" rx="2.07" ry="0.99" fill="#2a3a1c" transform="rotate(24 642.37 124.46)"/><ellipse cx="632.23" cy="129.52" rx="1.56" ry="1.80" fill="#6a2a44" transform="rotate(103 632.23 129.52)"/><ellipse cx="634.95" cy="123.43" rx="2.09" ry="1.63" fill="#d83040" transform="rotate(167 634.95 123.43)"/><ellipse cx="638.76" cy="116.63" rx="2.16" ry="1.88" fill="#fafafa" transform="rotate(102 638.76 116.63)"/><ellipse cx="639.94" cy="117.97" rx="1.41" ry="0.95" fill="#6a2a44" transform="rotate(154 639.94 117.97)"/><ellipse cx="642.36" cy="123.51" rx="1.12" ry="1.35" fill="#2a3a1c" transform="rotate(75 642.36 123.51)"/><ellipse cx="623.41" cy="128.92" rx="1.52" ry="1.53" fill="#c02030" transform="rotate(99 623.41 128.92)"/><ellipse cx="645.73" cy="119.86" rx="2.20" ry="1.22" fill="#d83040" transform="rotate(14 645.73 119.86)"/><ellipse cx="625.59" cy="123.44" rx="1.27" ry="0.93" fill="#6a2a44" transform="rotate(156 625.59 123.44)"/><ellipse cx="645.03" cy="122.60" rx="2.06" ry="1.30" fill="#a01828" transform="rotate(156 645.03 122.60)"/><ellipse cx="639.03" cy="114.95" rx="1.40" ry="1.58" fill="#e8e4dc" transform="rotate(129 639.03 114.95)"/><ellipse cx="646.13" cy="124.26" rx="1.67" ry="1.48" fill="#6a2a44" transform="rotate(2 646.13 124.26)"/><ellipse cx="631.64" cy="128.22" rx="1.51" ry="1.53" fill="#c02030" transform="rotate(24 631.64 128.22)"/><ellipse cx="637.71" cy="121.34" rx="1.85" ry="1.27" fill="#fafafa" transform="rotate(127 637.71 121.34)"/><ellipse cx="621.78" cy="130.89" rx="1.38" ry="1.38" fill="#fafafa" transform="rotate(107 621.78 130.89)"/><ellipse cx="629.00" cy="122.22" rx="1.93" ry="1.81" fill="#fafafa" transform="rotate(48 629.00 122.22)"/><ellipse cx="639.11" cy="115.75" rx="1.34" ry="1.76" fill="#e8e4dc" transform="rotate(43 639.11 115.75)"/><ellipse cx="625.31" cy="124.20" rx="1.21" ry="1.23" fill="#f4f2ee" transform="rotate(60 625.31 124.20)"/><ellipse cx="643.27" cy="124.29" rx="1.19" ry="1.70" fill="#2a3a1c" transform="rotate(39 643.27 124.29)"/><ellipse cx="635.90" cy="119.62" rx="1.14" ry="1.93" fill="#f4f2ee" transform="rotate(57 635.90 119.62)"/><ellipse cx="643.35" cy="128.08" rx="1.47" ry="1.79" fill="#6a2a44" transform="rotate(15 643.35 128.08)"/><ellipse cx="637.32" cy="128.49" rx="1.42" ry="1.75" fill="#5a7a30" transform="rotate(49 637.32 128.49)"/><ellipse cx="629.73" cy="123.69" rx="1.73" ry="0.92" fill="#5a7a30" transform="rotate(74 629.73 123.69)"/><ellipse cx="625.65" cy="125.37" rx="1.58" ry="1.93" fill="#e8e4dc" transform="rotate(167 625.65 125.37)"/><ellipse cx="626.27" cy="132.83" rx="2.16" ry="1.48" fill="#e8e4dc" transform="rotate(160 626.27 132.83)"/><ellipse cx="642.42" cy="126.34" rx="2.09" ry="1.87" fill="#d83040" transform="rotate(104 642.42 126.34)"/><ellipse cx="624.88" cy="120.44" rx="1.68" ry="1.34" fill="#c02030" transform="rotate(169 624.88 120.44)"/><ellipse cx="637.12" cy="121.59" rx="2.17" ry="1.48" fill="#6a2a44" transform="rotate(146 637.12 121.59)"/><ellipse cx="623.41" cy="118.76" rx="2.11" ry="1.77" fill="#6a2a44" transform="rotate(148 623.41 118.76)"/><ellipse cx="627.64" cy="119.57" rx="1.67" ry="0.94" fill="#e8e4dc" transform="rotate(58 627.64 119.57)"/><ellipse cx="621.49" cy="125.52" rx="2.04" ry="0.97" fill="#c02030" transform="rotate(90 621.49 125.52)"/><ellipse cx="628.88" cy="120.85" rx="1.52" ry="1.31" fill="#fafafa" transform="rotate(55 628.88 120.85)"/><ellipse cx="632.02" cy="115.65" rx="1.89" ry="1.30" fill="#c02030" transform="rotate(14 632.02 115.65)"/><ellipse cx="625.06" cy="122.48" rx="1.52" ry="1.76" fill="#e8e4dc" transform="rotate(112 625.06 122.48)"/><ellipse cx="632.10" cy="122.45" rx="1.94" ry="1.23" fill="#a01828" transform="rotate(171 632.10 122.45)"/><ellipse cx="626.18" cy="119.61" rx="1.98" ry="1.13" fill="#f4f2ee" transform="rotate(23 626.18 119.61)"/><ellipse cx="647.03" cy="127.64" rx="1.23" ry="1.64" fill="#6a2a44" transform="rotate(169 647.03 127.64)"/><ellipse cx="640.44" cy="135.72" rx="1.97" ry="1.61" fill="#e8e4dc" transform="rotate(132 640.44 135.72)"/><ellipse cx="635.77" cy="114.97" rx="1.62" ry="1.14" fill="#c02030" transform="rotate(70 635.77 114.97)"/><ellipse cx="634.76" cy="127.79" rx="1.30" ry="0.91" fill="#5a7a30" transform="rotate(151 634.76 127.79)"/><ellipse cx="638.82" cy="135.35" rx="1.74" ry="1.76" fill="#6a2a44" transform="rotate(7 638.82 135.35)"/><ellipse cx="641.43" cy="126.31" rx="1.22" ry="1.70" fill="#d83040" transform="rotate(168 641.43 126.31)"/><ellipse cx="621.80" cy="121.11" rx="2.01" ry="1.15" fill="#2a3a1c" transform="rotate(32 621.80 121.11)"/><ellipse cx="627.05" cy="129.22" rx="1.38" ry="1.54" fill="#5a7a30" transform="rotate(169 627.05 129.22)"/><ellipse cx="635.57" cy="138.96" rx="1.65" ry="1.95" fill="#5a7a30" transform="rotate(74 635.57 138.96)"/><ellipse cx="640.88" cy="116.57" rx="1.85" ry="1.05" fill="#e8e4dc" transform="rotate(72 640.88 116.57)"/><ellipse cx="633.94" cy="125.54" rx="2.15" ry="1.53" fill="#e8e4dc" transform="rotate(154 633.94 125.54)"/><ellipse cx="623.89" cy="133.01" rx="1.74" ry="1.23" fill="#2a3a1c" transform="rotate(42 623.89 133.01)"/><ellipse cx="628.33" cy="131.71" rx="1.75" ry="1.52" fill="#5a7a30" transform="rotate(177 628.33 131.71)"/><ellipse cx="644.83" cy="120.64" rx="1.63" ry="1.30" fill="#6a2a44" transform="rotate(31 644.83 120.64)"/><ellipse cx="630.12" cy="121.05" rx="1.56" ry="1.65" fill="#2a3a1c" transform="rotate(126 630.12 121.05)"/><ellipse cx="625.82" cy="128.24" rx="1.13" ry="1.97" fill="#e8e4dc" transform="rotate(13 625.82 128.24)"/><ellipse cx="638.12" cy="133.71" rx="2.15" ry="1.82" fill="#f4f2ee" transform="rotate(44 638.12 133.71)"/><ellipse cx="625.37" cy="119.29" rx="1.78" ry="1.62" fill="#2a3a1c" transform="rotate(7 625.37 119.29)"/><ellipse cx="623.38" cy="119.44" rx="1.14" ry="1.38" fill="#6a2a44" transform="rotate(132 623.38 119.44)"/><ellipse cx="629.31" cy="122.65" rx="1.33" ry="1.52" fill="#f4f2ee" transform="rotate(172 629.31 122.65)"/><ellipse cx="630.97" cy="127.23" rx="2.07" ry="0.96" fill="#f4f2ee" transform="rotate(78 630.97 127.23)"/><ellipse cx="632.29" cy="126.76" rx="1.21" ry="1.92" fill="#6a2a44" transform="rotate(67 632.29 126.76)"/><ellipse cx="641.57" cy="133.15" rx="1.83" ry="1.62" fill="#6a2a44" transform="rotate(170 641.57 133.15)"/><ellipse cx="646.36" cy="121.51" rx="1.68" ry="1.61" fill="#e8e4dc" transform="rotate(92 646.36 121.51)"/><ellipse cx="640.34" cy="132.73" rx="1.30" ry="1.86" fill="#2a3a1c" transform="rotate(118 640.34 132.73)"/><ellipse cx="624.03" cy="121.32" rx="1.71" ry="1.59" fill="#5a7a30" transform="rotate(82 624.03 121.32)"/><ellipse cx="628.79" cy="117.00" rx="1.22" ry="1.08" fill="#f4f2ee" transform="rotate(100 628.79 117.00)"/><ellipse cx="636.11" cy="122.99" rx="1.39" ry="1.30" fill="#f4f2ee" transform="rotate(157 636.11 122.99)"/><ellipse cx="621.27" cy="126.13" rx="1.86" ry="1.45" fill="#d83040" transform="rotate(158 621.27 126.13)"/><ellipse cx="646.37" cy="124.56" rx="1.49" ry="1.81" fill="#f4f2ee" transform="rotate(20 646.37 124.56)"/><ellipse cx="627.62" cy="114.87" rx="1.72" ry="1.88" fill="#f4f2ee" transform="rotate(20 627.62 114.87)"/><ellipse cx="639.51" cy="127.87" rx="2.00" ry="1.70" fill="#5a7a30" transform="rotate(107 639.51 127.87)"/><ellipse cx="624.17" cy="123.18" rx="1.70" ry="1.07" fill="#d83040" transform="rotate(32 624.17 123.18)"/><ellipse cx="644.25" cy="122.37" rx="1.13" ry="1.76" fill="#6a2a44" transform="rotate(160 644.25 122.37)"/><ellipse cx="646.49" cy="122.75" rx="2.10" ry="1.22" fill="#e8e4dc" transform="rotate(90 646.49 122.75)"/><ellipse cx="634.81" cy="131.75" rx="1.13" ry="1.09" fill="#a01828" transform="rotate(114 634.81 131.75)"/><ellipse cx="623.09" cy="133.12" rx="1.64" ry="1.46" fill="#d83040" transform="rotate(83 623.09 133.12)"/><ellipse cx="625.48" cy="126.82" rx="1.99" ry="1.90" fill="#c02030" transform="rotate(170 625.48 126.82)"/><ellipse cx="623.20" cy="119.97" rx="1.25" ry="1.75" fill="#2a3a1c" transform="rotate(112 623.20 119.97)"/><ellipse cx="621.51" cy="122.11" rx="1.66" ry="1.43" fill="#d83040" transform="rotate(3 621.51 122.11)"/><ellipse cx="629.54" cy="121.23" rx="1.86" ry="1.03" fill="#fafafa" transform="rotate(154 629.54 121.23)"/><ellipse cx="636.81" cy="137.87" rx="1.91" ry="1.26" fill="#f4f2ee" transform="rotate(145 636.81 137.87)"/><ellipse cx="632.25" cy="133.14" rx="1.45" ry="1.75" fill="#a01828" transform="rotate(74 632.25 133.14)"/><ellipse cx="643.60" cy="131.72" rx="1.65" ry="1.65" fill="#5a7a30" transform="rotate(97 643.60 131.72)"/><ellipse cx="631.83" cy="130.15" rx="1.13" ry="1.38" fill="#6a2a44" transform="rotate(124 631.83 130.15)"/><ellipse cx="632.29" cy="124.76" rx="1.89" ry="1.28" fill="#c02030" transform="rotate(67 632.29 124.76)"/><ellipse cx="634.82" cy="128.68" rx="2.17" ry="1.76" fill="#d83040" transform="rotate(47 634.82 128.68)"/><ellipse cx="630.38" cy="135.88" rx="1.31" ry="1.11" fill="#e8e4dc" transform="rotate(31 630.38 135.88)"/><ellipse cx="631.32" cy="116.78" rx="1.25" ry="1.55" fill="#c02030" transform="rotate(80 631.32 116.78)"/><ellipse cx="625.24" cy="135.50" rx="1.59" ry="1.33" fill="#5a7a30" transform="rotate(127 625.24 135.50)"/><ellipse cx="621.52" cy="123.31" rx="1.64" ry="1.88" fill="#5a7a30" transform="rotate(159 621.52 123.31)"/><ellipse cx="626.82" cy="122.92" rx="1.28" ry="1.56" fill="#d83040" transform="rotate(62 626.82 122.92)"/><ellipse cx="640.33" cy="119.75" rx="1.97" ry="1.94" fill="#a01828" transform="rotate(88 640.33 119.75)"/><ellipse cx="635.70" cy="112.94" rx="1.79" ry="1.26" fill="#fafafa" transform="rotate(17 635.70 112.94)"/><ellipse cx="621.60" cy="130.29" rx="1.32" ry="1.95" fill="#fafafa" transform="rotate(86 621.60 130.29)"/><ellipse cx="628.57" cy="128.97" rx="1.20" ry="1.20" fill="#5a7a30" transform="rotate(153 628.57 128.97)"/><ellipse cx="623.29" cy="122.94" rx="1.69" ry="1.74" fill="#fafafa" transform="rotate(73 623.29 122.94)"/><ellipse cx="630.83" cy="138.17" rx="2.12" ry="1.28" fill="#fafafa" transform="rotate(75 630.83 138.17)"/><ellipse cx="626.48" cy="133.77" rx="1.48" ry="1.78" fill="#a01828" transform="rotate(91 626.48 133.77)"/><ellipse cx="641.00" cy="134.97" rx="1.93" ry="1.63" fill="#f4f2ee" transform="rotate(17 641.00 134.97)"/><ellipse cx="626.69" cy="135.55" rx="2.07" ry="1.84" fill="#c02030" transform="rotate(81 626.69 135.55)"/><ellipse cx="645.03" cy="132.47" rx="2.20" ry="0.88" fill="#fafafa" transform="rotate(35 645.03 132.47)"/><ellipse cx="629.51" cy="120.75" rx="1.19" ry="1.59" fill="#a01828" transform="rotate(43 629.51 120.75)"/><ellipse cx="638.02" cy="128.38" rx="1.22" ry="1.20" fill="#c02030" transform="rotate(38 638.02 128.38)"/><ellipse cx="643.75" cy="126.43" rx="1.96" ry="1.54" fill="#e8e4dc" transform="rotate(142 643.75 126.43)"/><ellipse cx="634.98" cy="117.33" rx="1.78" ry="0.93" fill="#2a3a1c" transform="rotate(145 634.98 117.33)"/><ellipse cx="636.73" cy="135.98" rx="1.32" ry="1.86" fill="#f4f2ee" transform="rotate(15 636.73 135.98)"/><ellipse cx="633.03" cy="118.29" rx="1.81" ry="1.72" fill="#f4f2ee" transform="rotate(157 633.03 118.29)"/><ellipse cx="629.72" cy="128.87" rx="1.96" ry="1.20" fill="#a01828" transform="rotate(170 629.72 128.87)"/><ellipse cx="632.43" cy="122.65" rx="1.69" ry="1.39" fill="#f4f2ee" transform="rotate(131 632.43 122.65)"/><ellipse cx="622.25" cy="121.72" rx="1.93" ry="1.90" fill="#a01828" transform="rotate(124 622.25 121.72)"/><ellipse cx="630.24" cy="133.90" rx="1.77" ry="1.12" fill="#f4f2ee" transform="rotate(63 630.24 133.90)"/><ellipse cx="632.08" cy="114.44" rx="1.46" ry="1.70" fill="#d83040" transform="rotate(37 632.08 114.44)"/><ellipse cx="626.18" cy="136.44" rx="2.12" ry="1.47" fill="#a01828" transform="rotate(75 626.18 136.44)"/><ellipse cx="646.50" cy="125.56" rx="1.62" ry="1.53" fill="#5a7a30" transform="rotate(6 646.50 125.56)"/><ellipse cx="624.29" cy="126.10" rx="1.80" ry="0.92" fill="#c02030" transform="rotate(134 624.29 126.10)"/><ellipse cx="627.77" cy="124.12" rx="1.62" ry="1.10" fill="#fafafa" transform="rotate(141 627.77 124.12)"/><ellipse cx="624.07" cy="124.45" rx="1.59" ry="1.11" fill="#5a7a30" transform="rotate(88 624.07 124.45)"/><ellipse cx="642.62" cy="120.00" rx="2.18" ry="1.84" fill="#5a7a30" transform="rotate(67 642.62 120.00)"/><ellipse cx="624.59" cy="120.77" rx="1.62" ry="1.98" fill="#a01828" transform="rotate(40 624.59 120.77)"/><ellipse cx="630.09" cy="135.20" rx="2.12" ry="1.45" fill="#d83040" transform="rotate(3 630.09 135.20)"/><ellipse cx="637.59" cy="116.25" rx="1.28" ry="0.94" fill="#c02030" transform="rotate(37 637.59 116.25)"/><ellipse cx="641.51" cy="125.05" rx="2.18" ry="0.92" fill="#fafafa" transform="rotate(33 641.51 125.05)"/><ellipse cx="635.28" cy="114.71" rx="1.39" ry="1.62" fill="#6a2a44" transform="rotate(90 635.28 114.71)"/><ellipse cx="640.20" cy="121.54" rx="1.57" ry="1.57" fill="#c02030" transform="rotate(122 640.20 121.54)"/><ellipse cx="626.98" cy="115.87" rx="1.66" ry="1.79" fill="#5a7a30" transform="rotate(99 626.98 115.87)"/><ellipse cx="627.87" cy="116.79" rx="1.63" ry="0.95" fill="#c02030" transform="rotate(147 627.87 116.79)"/><ellipse cx="632.89" cy="126.59" rx="1.56" ry="1.45" fill="#e8e4dc" transform="rotate(31 632.89 126.59)"/><ellipse cx="625.19" cy="131.11" rx="1.21" ry="1.73" fill="#e8e4dc" transform="rotate(80 625.19 131.11)"/></g></svg>
<svg style="left:0;top:0" width="800" height="600"><defs><clipPath id="c4"><circle cx="632.00" cy="172.00" r="7.20"/></clipPath></defs><circle cx="631.50" cy="173.20" r="8.30" fill="rgba(0,0,0,0.12)" filter="url(#blur)"/><circle cx="632.00" cy="172.00" r="8.00" fill="#efe6d8"/><circle cx="632.00" cy="172.00" r="7.20" fill="#d8a868"/><g clip-path="url(#c4)"><ellipse cx="630.50" cy="167.03" rx="0.76" ry="1.01" fill="#c89050" transform="rotate(52 630.50 167.03)"/><ellipse cx="632.29" cy="169.99" rx="1.37" ry="0.80" fill="#f0d8b0" transform="rotate(170 632.29 169.99)"/><ellipse cx="628.55" cy="168.71" rx="0.98" ry="1.07" fill="#f0d8b0" transform="rotate(132 628.55 168.71)"/><ellipse cx="626.05" cy="173.52" rx="1.13" ry="0.73" fill="#e8c898" transform="rotate(85 626.05 173.52)"/><ellipse cx="637.26" cy="172.69" rx="0.76" ry="0.82" fill="#b07840" transform="rotate(127 637.26 172.69)"/><ellipse cx="629.29" cy="175.82" rx="1.06" ry="1.05" fill="#f0d8b0" transform="rotate(78 629.29 175.82)"/><ellipse cx="627.12" cy="169.19" rx="0.81" ry="0.95" fill="#c89050" transform="rotate(180 627.12 169.19)"/><ellipse cx="632.27" cy="174.13" rx="0.86" ry="1.11" fill="#b07840" transform="rotate(12 632.27 174.13)"/><ellipse cx="637.95" cy="173.94" rx="0.96" ry="0.87" fill="#e8c898" transform="rotate(134 637.95 173.94)"/><ellipse cx="629.42" cy="172.84" rx="0.83" ry="0.65" fill="#b07840" transform="rotate(41 629.42 172.84)"/><ellipse cx="635.82" cy="173.66" rx="0.84" ry="1.30" fill="#f0d8b0" transform="rotate(52 635.82 173.66)"/><ellipse cx="628.91" cy="174.52" rx="0.76" ry="0.82" fill="#b07840" transform="rotate(174 628.91 174.52)"/><ellipse cx="635.96" cy="170.71" rx="0.97" ry="0.74" fill="#c89050" transform="rotate(80 635.96 170.71)"/><ellipse cx="626.76" cy="170.30" rx="1.00" ry="0.61" fill="#f0d8b0" transform="rotate(8 626.76 170.30)"/><ellipse cx="627.24" cy="176.09" rx="1.50" ry="1.03" fill="#b07840" transform="rotate(79 627.24 176.09)"/><ellipse cx="635.41" cy="173.38" rx="1.20" ry="1.01" fill="#f0d8b0" transform="rotate(105 635.41 173.38)"/><ellipse cx="636.82" cy="169.02" rx="1.24" ry="0.75" fill="#e8c898" transform="rotate(36 636.82 169.02)"/><ellipse cx="631.12" cy="171.88" rx="1.07" ry="0.79" fill="#f0d8b0" transform="rotate(160 631.12 171.88)"/><ellipse cx="636.77" cy="171.98" rx="0.78" ry="0.79" fill="#c89050" transform="rotate(95 636.77 171.98)"/><ellipse cx="635.92" cy="170.81" rx="0.86" ry="0.64" fill="#b07840" transform="rotate(167 635.92 170.81)"/><ellipse cx="630.60" cy="177.77" rx="1.12" ry="0.67" fill="#c89050" transform="rotate(38 630.60 177.77)"/><ellipse cx="638.11" cy="169.65" rx="1.35" ry="1.08" fill="#e8c898" transform="rotate(147 638.11 169.65)"/><ellipse cx="632.40" cy="174.23" rx="1.00" ry="0.89" fill="#b07840" transform="rotate(89 632.40 174.23)"/><ellipse cx="637.16" cy="168.83" rx="0.78" ry="1.27" fill="#f0d8b0" transform="rotate(23 637.16 168.83)"/><ellipse cx="633.95" cy="173.00" rx="1.45" ry="0.76" fill="#e8c898" transform="rotate(1 633.95 173.00)"/><ellipse cx="636.46" cy="176.07" rx="1.16" ry="1.26" fill="#f0d8b0" transform="rotate(36 636.46 176.07)"/><ellipse cx="634.47" cy="169.56" rx="1.44" ry="0.93" fill="#e8c898" transform="rotate(14 634.47 169.56)"/><ellipse cx="634.81" cy="166.43" rx="1.21" ry="0.70" fill="#b07840" transform="rotate(65 634.81 166.43)"/><ellipse cx="635.85" cy="172.33" rx="0.97" ry="0.86" fill="#c89050" transform="rotate(13 635.85 172.33)"/><ellipse cx="638.62" cy="171.33" rx="1.34" ry="0.83" fill="#f0d8b0" transform="rotate(42 638.62 171.33)"/><ellipse cx="631.81" cy="178.71" rx="0.81" ry="1.29" fill="#c89050" transform="rotate(144 631.81 178.71)"/><ellipse cx="630.79" cy="175.04" rx="0.80" ry="1.26" fill="#e8c898" transform="rotate(35 630.79 175.04)"/><ellipse cx="629.15" cy="176.84" rx="0.84" ry="1.02" fill="#e8c898" transform="rotate(67 629.15 176.84)"/><ellipse cx="627.14" cy="174.98" rx="1.12" ry="0.85" fill="#b07840" transform="rotate(98 627.14 174.98)"/><ellipse cx="637.82" cy="175.03" rx="1.24" ry="0.69" fill="#c89050" transform="rotate(20 637.82 175.03)"/><ellipse cx="636.12" cy="173.45" rx="1.14" ry="0.91" fill="#c89050" transform="rotate(53 636.12 173.45)"/><ellipse cx="628.10" cy="167.40" rx="1.26" ry="1.06" fill="#c89050" transform="rotate(56 628.10 167.40)"/><ellipse cx="637.94" cy="171.53" rx="1.45" ry="0.98" fill="#b07840" transform="rotate(79 637.94 171.53)"/><ellipse cx="633.69" cy="170.44" rx="1.33" ry="0.87" fill="#b07840" transform="rotate(119 633.69 170.44)"/><ellipse cx="630.16" cy="173.09" rx="1.26" ry="1.26" fill="#b07840" transform="rotate(14 630.16 173.09)"/></g></svg>
<svg style="left:0;top:0" width="800" height="600"><defs><clipPath id="c5"><circle cx="620.80" cy="191.60" r="8.70"/></clipPath></defs><circle cx="620.30" cy="192.80" r="9.50" fill="rgba(0,0,0,0.12)" filter="url(#blur)"/><circle cx="620.80" cy="191.60" r="9.20" fill="#b8d098"/><circle cx="620.80" cy="191.60" r="8.70" fill="#a8c880"/><g clip-path="url(#c5)"><ellipse cx="622.94" cy="195.81" rx="2.02" ry="1.73" fill="#c8e0a8" transform="rotate(45 622.94 195.81)"/><ellipse cx="618.57" cy="198.01" rx="1.70" ry="1.51" fill="#7aa850" transform="rotate(2 618.57 198.01)"/><ellipse cx="615.87" cy="187.76" rx="1.28" ry="1.76" fill="#7aa850" transform="rotate(25 615.87 187.76)"/><ellipse cx="622.84" cy="185.10" rx="2.17" ry="0.89" fill="#c8e0a8" transform="rotate(139 622.84 185.10)"/><ellipse cx="615.00" cy="188.36" rx="1.69" ry="1.63" fill="#5a8a38" transform="rotate(37 615.00 188.36)"/><ellipse cx="617.30" cy="189.18" rx="2.13" ry="1.17" fill="#5a8a38" transform="rotate(60 617.30 189.18)"/><ellipse cx="626.32" cy="193.10" rx="1.17" ry="1.27" fill="#d8ecc0" transform="rotate(55 626.32 193.10)"/><ellipse cx="624.22" cy="186.12" rx="1.88" ry="0.94" fill="#7aa850" transform="rotate(176 624.22 186.12)"/><ellipse cx="625.81" cy="189.27" rx="1.60" ry="1.66" fill="#c8e0a8" transform="rotate(112 625.81 189.27)"/><ellipse cx="616.38" cy="197.16" rx="1.48" ry="1.27" fill="#7aa850" transform="rotate(94 616.38 197.16)"/><ellipse cx="625.12" cy="196.77" rx="1.14" ry="1.92" fill="#d8ecc0" transform="rotate(16 625.12 196.77)"/><ellipse cx="618.03" cy="193.53" rx="1.47" ry="1.90" fill="#5a8a38" transform="rotate(98 618.03 193.53)"/><ellipse cx="617.54" cy="188.41" rx="1.98" ry="1.57" fill="#5a8a38" transform="rotate(130 617.54 188.41)"/><ellipse cx="617.48" cy="191.32" rx="1.19" ry="1.54" fill="#c8e0a8" transform="rotate(166 617.48 191.32)"/><ellipse cx="618.08" cy="187.25" rx="1.26" ry="1.96" fill="#7aa850" transform="rotate(115 618.08 187.25)"/><ellipse cx="626.05" cy="188.71" rx="1.24" ry="1.68" fill="#5a8a38" transform="rotate(171 626.05 188.71)"/><ellipse cx="623.07" cy="196.61" rx="1.29" ry="1.29" fill="#c8e0a8" transform="rotate(11 623.07 196.61)"/><ellipse cx="619.42" cy="185.36" rx="2.17" ry="1.38" fill="#5a8a38" transform="rotate(88 619.42 185.36)"/><ellipse cx="624.79" cy="191.24" rx="1.62" ry="1.87" fill="#d8ecc0" transform="rotate(20 624.79 191.24)"/><ellipse cx="626.40" cy="192.15" rx="1.79" ry="1.43" fill="#5a8a38" transform="rotate(61 626.40 192.15)"/><ellipse cx="618.39" cy="196.58" rx="1.86" ry="1.61" fill="#d8ecc0" transform="rotate(137 618.39 196.58)"/><ellipse cx="618.42" cy="195.16" rx="2.02" ry="1.17" fill="#d8ecc0" transform="rotate(177 618.42 195.16)"/><ellipse cx="618.02" cy="186.01" rx="1.62" ry="1.73" fill="#c8e0a8" transform="rotate(59 618.02 186.01)"/><ellipse cx="616.86" cy="187.93" rx="1.48" ry="1.59" fill="#d8ecc0" transform="rotate(133 616.86 187.93)"/><ellipse cx="626.51" cy="188.99" rx="2.06" ry="1.64" fill="#5a8a38" transform="rotate(176 626.51 188.99)"/><ellipse cx="628.74" cy="191.92" rx="1.32" ry="1.28" fill="#5a8a38" transform="rotate(154 628.74 191.92)"/><ellipse cx="623.77" cy="190.15" rx="1.43" ry="1.49" fill="#7aa850" transform="rotate(156 623.77 190.15)"/><ellipse cx="615.50" cy="193.10" rx="1.34" ry="1.63" fill="#5a8a38" transform="rotate(114 615.50 193.10)"/><ellipse cx="612.83" cy="191.11" rx="1.28" ry="1.86" fill="#5a8a38" transform="rotate(20 612.83 191.11)"/><ellipse cx="621.64" cy="190.13" rx="1.52" ry="1.55" fill="#d8ecc0" transform="rotate(106 621.64 190.13)"/></g></svg>
<svg style="left:0;top:0" width="800" height="600"><defs><clipPath id="c6"><circle cx="643.60" cy="191.20" r="7.70"/></clipPath></defs><circle cx="643.10" cy="192.40" r="9.10" fill="rgba(0,0,0,0.12)" filter="url(#blur)"/><circle cx="643.60" cy="191.20" r="8.80" fill="#f0e6d0"/><circle cx="643.60" cy="191.20" r="7.70" fill="#e0a820"/><g clip-path="url(#c6)"><ellipse cx="648.12" cy="196.16" rx="1.23" ry="0.59" fill="#c88a10" transform="rotate(26 648.12 196.16)"/><ellipse cx="647.22" cy="188.42" rx="0.89" ry="1.12" fill="#f0c030" transform="rotate(131 647.22 188.42)"/><ellipse cx="642.28" cy="191.79" rx="0.84" ry="0.95" fill="#f0c030" transform="rotate(145 642.28 191.79)"/><ellipse cx="639.99" cy="195.87" rx="1.29" ry="0.79" fill="#f0c030" transform="rotate(17 639.99 195.87)"/><ellipse cx="648.22" cy="195.89" rx="1.19" ry="1.09" fill="#c88a10" transform="rotate(126 648.22 195.89)"/><ellipse cx="643.40" cy="196.32" rx="1.06" ry="1.01" fill="#d09010" transform="rotate(126 643.40 196.32)"/><ellipse cx="645.17" cy="188.19" rx="0.76" ry="1.18" fill="#f0c030" transform="rotate(95 645.17 188.19)"/><ellipse cx="637.70" cy="193.71" rx="1.20" ry="0.83" fill="#f8d050" transform="rotate(40 637.70 193.71)"/><ellipse cx="645.10" cy="196.34" rx="0.83" ry="0.68" fill="#f0c030" transform="rotate(117 645.10 196.34)"/><ellipse cx="644.49" cy="193.84" rx="0.96" ry="0.93" fill="#f8d050" transform="rotate(52 644.49 193.84)"/><ellipse cx="646.35" cy="191.03" rx="1.00" ry="1.08" fill="#d09010" transform="rotate(72 646.35 191.03)"/><ellipse cx="646.22" cy="197.20" rx="1.25" ry="0.83" fill="#c88a10" transform="rotate(14 646.22 197.20)"/><ellipse cx="642.47" cy="188.17" rx="1.36" ry="0.69" fill="#c88a10" transform="rotate(122 642.47 188.17)"/><ellipse cx="642.85" cy="194.63" rx="0.71" ry="0.94" fill="#d09010" transform="rotate(45 642.85 194.63)"/><ellipse cx="648.25" cy="186.39" rx="0.93" ry="0.92" fill="#c88a10" transform="rotate(177 648.25 186.39)"/><ellipse cx="650.17" cy="189.99" rx="0.89" ry="0.89" fill="#c88a10" transform="rotate(86 650.17 189.99)"/><ellipse cx="638.09" cy="189.31" rx="1.14" ry="0.89" fill="#f8d050" transform="rotate(66 638.09 189.31)"/><ellipse cx="645.44" cy="194.19" rx="0.92" ry="0.84" fill="#f8d050" transform="rotate(88 645.44 194.19)"/><ellipse cx="642.82" cy="184.38" rx="1.13" ry="0.96" fill="#f0c030" transform="rotate(123 642.82 184.38)"/><ellipse cx="643.56" cy="192.58" rx="0.81" ry="0.75" fill="#d09010" transform="rotate(3 643.56 192.58)"/><ellipse cx="648.32" cy="195.82" rx="0.75" ry="0.72" fill="#c88a10" transform="rotate(67 648.32 195.82)"/><ellipse cx="639.65" cy="188.40" rx="1.14" ry="0.63" fill="#f0c030" transform="rotate(19 639.65 188.40)"/><ellipse cx="645.84" cy="190.63" rx="1.14" ry="1.05" fill="#f0c030" transform="rotate(23 645.84 190.63)"/><ellipse cx="645.42" cy="197.54" rx="1.05" ry="0.57" fill="#c88a10" transform="rotate(115 645.42 197.54)"/><ellipse cx="648.50" cy="186.41" rx="1.04" ry="0.87" fill="#c88a10" transform="rotate(101 648.50 186.41)"/><ellipse cx="643.25" cy="192.42" rx="1.38" ry="0.76" fill="#f8d050" transform="rotate(169 643.25 192.42)"/><ellipse cx="642.53" cy="197.70" rx="1.20" ry="0.73" fill="#f0c030" transform="rotate(109 642.53 197.70)"/><ellipse cx="639.57" cy="194.98" rx="0.94" ry="0.58" fill="#d09010" transform="rotate(171 639.57 194.98)"/><ellipse cx="647.29" cy="195.07" rx="1.19" ry="0.80" fill="#d09010" transform="rotate(14 647.29 195.07)"/><ellipse cx="647.17" cy="185.26" rx="1.02" ry="0.91" fill="#d09010" transform="rotate(14 647.17 185.26)"/><ellipse cx="637.04" cy="191.51" rx="0.83" ry="1.06" fill="#f0c030" transform="rotate(33 637.04 191.51)"/><ellipse cx="647.28" cy="191.31" rx="1.26" ry="1.22" fill="#c88a10" transform="rotate(125 647.28 191.31)"/><ellipse cx="646.91" cy="185.44" rx="1.23" ry="1.26" fill="#d09010" transform="rotate(101 646.91 185.44)"/><ellipse cx="641.85" cy="195.21" rx="1.07" ry="0.57" fill="#c88a10" transform="rotate(152 641.85 195.21)"/><ellipse cx="644.07" cy="196.59" rx="1.20" ry="1.01" fill="#d09010" transform="rotate(145 644.07 196.59)"/><ellipse cx="641.63" cy="193.77" rx="0.81" ry="1.00" fill="#d09010" transform="rotate(69 641.63 193.77)"/><ellipse cx="647.59" cy="185.26" rx="1.17" ry="0.98" fill="#f0c030" transform="rotate(11 647.59 185.26)"/><ellipse cx="639.36" cy="189.77" rx="0.76" ry="0.61" fill="#f8d050" transform="rotate(103 639.36 189.77)"/><ellipse cx="642.64" cy="198.25" rx="0.74" ry="1.20" fill="#d09010" transform="rotate(135 642.64 198.25)"/><ellipse cx="646.31" cy="194.73" rx="0.88" ry="0.72" fill="#f8d050" transform="rotate(147 646.31 194.73)"/><ellipse cx="645.98" cy="191.75" rx="0.89" ry="0.57" fill="#d09010" transform="rotate(95 645.98 191.75)"/><ellipse cx="641.00" cy="191.47" rx="0.95" ry="1.04" fill="#f0c030" transform="rotate(41 641.00 191.47)"/><ellipse cx="647.65" cy="189.05" rx="1.00" ry="1.14" fill="#f8d050" transform="rotate(9 647.65 189.05)"/><ellipse cx="645.00" cy="187.71" rx="0.79" ry="0.94" fill="#d09010" transform="rotate(44 645.00 187.71)"/><ellipse cx="642.51" cy="191.47" rx="1.35" ry="0.74" fill="#c88a10" transform="rotate(54 642.51 191.47)"/></g></svg>
<div class="t" id="t0" style="left:244.50px;top:0px;font-size:6.60px;color:#1c1a1a;font-weight:bold;-webkit-text-stroke:0.20px currentColor;transform:scaleX(0.9000);">$13.99</div>
<div class="t" id="t1" style="left:244.50px;top:23px;font-size:7.40px;color:#1c1a1a;font-weight:bold;-webkit-text-stroke:0.20px currentColor;transform:scaleX(0.9922);">Deluxe Salad Meal</div>
<div class="t" id="t2" style="left:244.50px;top:32px;font-size:6.30px;color:#666;-webkit-text-stroke:0.12px currentColor;transform:scaleX(0.9737);">Toasted butter bagel</div>
<div class="t" id="t3" style="left:244.50px;top:45px;font-size:6.50px;color:#1c1a1a;font-weight:bold;-webkit-text-stroke:0.20px currentColor;transform:scaleX(0.8988);">Choose from the following:</div>
<div class="t" id="t4" style="left:244.50px;top:53px;font-size:6.60px;color:#484848;-webkit-text-stroke:0.12px currentColor;transform:scaleX(0.8846);"><b>Salad</b> Tuna, Cesar, Greek.</div>
<div class="t" id="t5" style="left:244.50px;top:61px;font-size:6.60px;color:#484848;-webkit-text-stroke:0.12px currentColor;transform:scaleX(0.8761);"><b>Soup</b> Onion, Vegetable.</div>
<div class="t" id="t6" style="left:244.50px;top:69px;font-size:6.60px;color:#484848;-webkit-text-stroke:0.12px currentColor;transform:scaleX(0.8734);"><b>Sides</b> Hash Browns, Fries.</div>
<div class="t" id="t7" style="left:244.50px;top:78px;font-size:6.60px;color:#484848;-webkit-text-stroke:0.12px currentColor;transform:scaleX(0.9159);"><b>Drinks</b> Bottle Soda, Coffee, Ice coffee,</div>
<div class="t" id="t8" style="left:244.50px;top:85px;font-size:6.60px;color:#484848;-webkit-text-stroke:0.12px currentColor;transform:scaleX(0.9000);">Fruit Smoothie.</div>
<div class="t" id="t9" style="left:244.50px;top:94px;font-size:6.60px;color:#484848;-webkit-text-stroke:0.12px currentColor;transform:scaleX(0.9085);"><b>Dessert</b> Muffin, Kokosh.</div>
<div class="t" id="t10" style="left:244.50px;top:102px;font-size:6.40px;color:#1c1a1a;font-weight:bold;-webkit-text-stroke:0.20px currentColor;transform:scaleX(0.9750);">$23.99</div>
<div class="t" id="t11" style="left:244.50px;top:121px;font-size:7.40px;color:#1c1a1a;font-weight:bold;-webkit-text-stroke:0.20px currentColor;transform:scaleX(0.9925);">Deluxe Panini Meal</div>
<div class="t" id="t12" style="left:244.50px;top:129px;font-size:6.50px;color:#1c1a1a;font-weight:bold;-webkit-text-stroke:0.20px currentColor;transform:scaleX(0.8988);">Choose from the following:</div>
<div class="t" id="t13" style="left:244.50px;top:151px;font-size:6.60px;color:#484848;-webkit-text-stroke:0.12px currentColor;transform:scaleX(0.9650);"><b>Panini</b> Spreads panini, Tuna melt.</div>
<div class="t" id="t14" style="left:244.50px;top:159px;font-size:6.60px;color:#484848;-webkit-text-stroke:0.12px currentColor;transform:scaleX(0.8761);"><b>Soup</b> Onion, Vegetable.</div>
<div class="t" id="t15" style="left:244.50px;top:180px;font-size:6.60px;color:#484848;-webkit-text-stroke:0.12px currentColor;transform:scaleX(0.9167);"><b>Sides</b> Hash browns, Fries.</div>
<div class="t" id="t16" style="left:244.50px;top:188px;font-size:6.60px;color:#484848;-webkit-text-stroke:0.12px currentColor;transform:scaleX(0.9336);"><b>Drinks</b> Bottle Soda, Coffee, Ice coffee,</div>
<div class="t" id="t17" style="left:244.50px;top:196px;font-size:6.60px;color:#484848;-webkit-text-stroke:0.12px currentColor;transform:scaleX(0.9444);">Fruit Smoothie.</div>
<div class="t" id="t18" style="left:244.50px;top:204px;font-size:6.60px;color:#484848;-webkit-text-stroke:0.12px currentColor;transform:scaleX(0.9627);"><b>Desert</b> Muffin, Kokosh.</div>
<div class="t" id="t19" style="left:244.50px;top:212px;font-size:6.40px;color:#1c1a1a;font-weight:bold;-webkit-text-stroke:0.20px currentColor;transform:scaleX(0.9750);">$23.99</div>
<div class="t" id="t20" style="left:65.50px;top:293px;font-size:6.60px;color:#1c1a1a;font-weight:bold;-webkit-text-stroke:0.20px currentColor;transform:scaleX(1.0227);">Bagels</div>
<div class="t" id="t21" style="left:141.20px;top:293px;font-size:8.20px;color:#444;-webkit-text-stroke:0.12px currentColor;transform:scaleX(0.9625);">$1.00/$10.00</div>
<div class="t" id="t22" style="left:244.00px;top:289px;font-size:7.00px;color:#1c1a1a;font-weight:bold;-webkit-text-stroke:0.20px currentColor;transform:scaleX(1.0082);">Cream Cheese</div>
<div class="t" id="t23" style="left:323.40px;top:289px;font-size:7.60px;color:#444;-webkit-text-stroke:0.12px currentColor;transform:scaleX(1.0400);">$5.59/$9.99</div>
<div class="t" id="t24" style="left:244.00px;top:298px;font-size:7.00px;color:#1c1a1a;-webkit-text-stroke:0.12px currentColor;transform:scaleX(1.2632);">Flavor</div>
<div class="t" id="t25" style="left:323.40px;top:298px;font-size:7.60px;color:#444;-webkit-text-stroke:0.12px currentColor;transform:scaleX(1.0400);">$5.99/10.49</div>
<div class="t" id="t46" style="left:435.60px;top:16px;font-size:6.90px;color:#1c1a1a;font-weight:bold;-webkit-text-stroke:0.20px currentColor;transform:scaleX(1.0452);">Bagel with Tuna Salad</div>
<div class="t" id="t47" style="left:573.00px;top:16px;font-size:7.00px;color:#555;-webkit-text-stroke:0.12px currentColor;transform:scaleX(1.1176);">$4.95</div>
<div class="t" id="t48" style="left:435.60px;top:33px;font-size:6.90px;color:#1c1a1a;font-weight:bold;-webkit-text-stroke:0.20px currentColor;transform:scaleX(1.0343);">Bagel with Egg Salad</div>
<div class="t" id="t49" style="left:573.00px;top:34px;font-size:7.00px;color:#555;-webkit-text-stroke:0.12px currentColor;transform:scaleX(1.1176);">$4.95</div>
<div class="t" id="t50" style="left:611.25px;top:16px;font-size:6.90px;color:#1c1a1a;font-weight:bold;-webkit-text-stroke:0.20px currentColor;transform:scaleX(1.0668);">Bagel with Cheese Omelette</div>
<div class="t" id="t51" style="left:748.00px;top:16px;font-size:7.00px;color:#555;-webkit-text-stroke:0.12px currentColor;transform:scaleX(1.1765);">$6.50</div>
<div class="t" id="t52" style="left:611.25px;top:33px;font-size:6.90px;color:#1c1a1a;font-weight:bold;-webkit-text-stroke:0.20px currentColor;transform:scaleX(1.0197);">Pizza Bagel</div>
<div class="t" id="t53" style="left:748.00px;top:34px;font-size:7.00px;color:#555;-webkit-text-stroke:0.12px currentColor;transform:scaleX(1.1765);">$5.00</div>
<div class="t" id="t54" style="left:632.80px;top:87px;font-size:8.60px;color:#1a1a1a;-webkit-text-stroke:0.12px currentColor;transform:scaleX(0.9204);">Lorem ipsum</div>
<div class="t" id="t55" style="left:562.00px;top:94px;font-size:5.20px;color:#1c1a1a;font-weight:bold;-webkit-text-stroke:0.05px currentColor;transform:scaleX(1.0434);">Add more Vegetables for $2.50</div>
<div class="t" id="t56" style="left:483.00px;top:112px;font-size:7.40px;color:#1c1a1a;font-weight:bold;-webkit-text-stroke:0.20px currentColor;transform:scaleX(0.9641);">Tuna Salad</div>
<div class="t" id="t57" style="left:483.00px;top:121px;font-size:6.60px;color:#484848;-webkit-text-stroke:0.12px currentColor;transform:scaleX(0.9129);">Lettuce, Tomatoes, Purple Onions,</div>
<div class="t" id="t58" style="left:483.00px;top:129px;font-size:6.60px;color:#484848;-webkit-text-stroke:0.12px currentColor;transform:scaleX(0.9036);">Cucumbers, Pickles, Dressing of your</div>
<div class="t" id="t59" style="left:483.00px;top:137px;font-size:6.60px;color:#484848;-webkit-text-stroke:0.12px currentColor;transform:scaleX(0.8190);">choice.</div>
<div class="t" id="t60" style="left:483.00px;top:144px;font-size:6.40px;color:#1c1a1a;font-weight:bold;-webkit-text-stroke:0.20px currentColor;transform:scaleX(0.9750);">$10.99</div>
<div class="t" id="t61" style="left:483.00px;top:172px;font-size:7.40px;color:#1c1a1a;font-weight:bold;-webkit-text-stroke:0.20px currentColor;transform:scaleX(0.9630);">Caesar Salad</div>
<div class="t" id="t62" style="left:483.00px;top:181px;font-size:6.60px;color:#484848;-webkit-text-stroke:0.12px currentColor;transform:scaleX(0.9224);">Lettuce, Cherry Tomatoes, Purple</div>
<div class="t" id="t63" style="left:483.00px;top:189px;font-size:6.60px;color:#484848;-webkit-text-stroke:0.12px currentColor;transform:scaleX(0.8943);">Onion, Onion Garlic Croutons.</div>
<div class="t" id="t64" style="left:483.00px;top:198px;font-size:6.40px;color:#1c1a1a;font-weight:bold;-webkit-text-stroke:0.20px currentColor;">$9.99</div>
<div class="t" id="t65" style="left:661.00px;top:112px;font-size:7.40px;color:#1c1a1a;font-weight:bold;-webkit-text-stroke:0.20px currentColor;transform:scaleX(0.9884);">Greek Salad</div>
<div class="t" id="t66" style="left:661.00px;top:121px;font-size:6.60px;color:#484848;-webkit-text-stroke:0.12px currentColor;transform:scaleX(0.9273);">Lettuce, Tossed with Diced Tomatoes,</div>
<div class="t" id="t67" style="left:661.00px;top:129px;font-size:6.60px;color:#484848;-webkit-text-stroke:0.12px currentColor;transform:scaleX(0.8913);">Olives, Cucumbers, Purple Onions,</div>
<div class="t" id="t68" style="left:661.00px;top:137px;font-size:6.60px;color:#484848;-webkit-text-stroke:0.12px currentColor;transform:scaleX(0.9079);">Topped with Feta Cheese.</div>
<div class="t" id="t69" style="left:661.00px;top:144px;font-size:6.40px;color:#1c1a1a;font-weight:bold;-webkit-text-stroke:0.20px currentColor;transform:scaleX(1.0100);">$10.99</div>
<div class="t" id="t70" style="left:661.00px;top:173px;font-size:7.40px;color:#1c1a1a;font-weight:bold;-webkit-text-stroke:0.20px currentColor;transform:scaleX(0.9949);">Create your Own</div>
<div class="t" id="t71" style="left:661.00px;top:181px;font-size:6.60px;color:#484848;-webkit-text-stroke:0.12px currentColor;transform:scaleX(0.9125);">Lettuce + 4 vegetables, Dressing of</div>
<div class="t" id="t72" style="left:661.00px;top:189px;font-size:6.60px;color:#484848;-webkit-text-stroke:0.12px currentColor;transform:scaleX(0.9200);">your choice.</div>
<div class="t" id="t73" style="left:661.00px;top:198px;font-size:6.40px;color:#1c1a1a;font-weight:bold;-webkit-text-stroke:0.20px currentColor;transform:scaleX(0.9400);">$10.99</div>
<svg style="left:0;top:0" width="800" height="600"><g fill="none" stroke="#8cc04a" stroke-width="1.20" stroke-linecap="round" stroke-linejoin="round"><path vector-effect="non-scaling-stroke" transform="translate(186.800 256.700) scale(10.3043 12.5500) translate(0.000 0)" d="M0.0 -1.0 L0.5 -1.0 M0.25 -1.0 L0.25 0"/><path vector-effect="non-scaling-stroke" transform="translate(186.800 256.700) scale(10.3043 12.5500) translate(0.590 0)" d="M0.18 -0.620 C0.0 -0.620 0.0 0.02 0.18 0.02 C0.36 0.02 0.36 -0.620 0.18 -0.620 Z"/><path vector-effect="non-scaling-stroke" transform="translate(186.800 256.700) scale(10.3043 12.5500) translate(1.350 0)" d="M0.48 -0.86 C0.38 -1.04 0.0 -1.04 0.0 -0.5 C0.0 0.04 0.46 0.06 0.48 -0.4 L0.28 -0.4"/><path vector-effect="non-scaling-stroke" transform="translate(186.800 256.700) scale(10.3043 12.5500) translate(1.940 0)" d="M0.18 -0.620 C0.0 -0.620 0.0 0.02 0.18 0.02 C0.36 0.02 0.36 -0.620 0.18 -0.620 Z"/></g></svg>
<svg style="left:0;top:0" width="800" height="600"><g fill="none" stroke="#8cc04a" stroke-width="1.20" stroke-linecap="round" stroke-linejoin="round"><path vector-effect="non-scaling-stroke" transform="translate(589.000 84.700) scale(10.9787 12.7000) translate(0.000 0)" d="M0.44 -0.88 C0.36 -1.02 0.04 -1.02 0.04 -0.76 C0.04 -0.52 0.44 -0.5 0.44 -0.22 C0.44 0.04 0.08 0.04 0.0 -0.12"/><path vector-effect="non-scaling-stroke" transform="translate(589.000 84.700) scale(10.9787 12.7000) translate(0.550 0)" d="M0.34 -0.527 C0.12 -0.651 0.0 -0.372 0.02 -0.155 C0.04 0.03 0.3 0.03 0.34 -0.217 M0.34 -0.620 L0.34 0"/><path vector-effect="non-scaling-stroke" transform="translate(589.000 84.700) scale(10.9787 12.7000) translate(1.000 0)" d="M0.03 -1.0 L0.03 0"/><path vector-effect="non-scaling-stroke" transform="translate(589.000 84.700) scale(10.9787 12.7000) translate(1.150 0)" d="M0.34 -0.527 C0.12 -0.651 0.0 -0.372 0.02 -0.155 C0.04 0.03 0.3 0.03 0.34 -0.217 M0.34 -0.620 L0.34 0"/><path vector-effect="non-scaling-stroke" transform="translate(589.000 84.700) scale(10.9787 12.7000) translate(1.600 0)" d="M0.34 -0.527 C0.12 -0.651 0.0 -0.372 0.02 -0.155 C0.04 0.03 0.3 0.03 0.34 -0.217 M0.34 -1.0 L0.34 0"/><path vector-effect="non-scaling-stroke" transform="translate(589.000 84.700) scale(10.9787 12.7000) translate(2.050 0)" d="M0.28 -0.546 C0.2 -0.632 0.02 -0.620 0.03 -0.465 C0.04 -0.310 0.28 -0.310 0.28 -0.136 C0.28 0.03 0.06 0.03 0.0 -0.062"/></g></svg>
<svg style="left:0;top:0" width="800" height="600"><g fill="none" stroke="#8cc04a" stroke-width="1.20" stroke-linecap="round" stroke-linejoin="round"><path vector-effect="non-scaling-stroke" transform="translate(484.500 279.300) scale(10.1913 12.5000) translate(0.000 0)" d="M0.44 -0.88 C0.36 -1.02 0.04 -1.02 0.04 -0.76 C0.04 -0.52 0.44 -0.5 0.44 -0.22 C0.44 0.04 0.08 0.04 0.0 -0.12"/><path vector-effect="non-scaling-stroke" transform="translate(484.500 279.300) scale(10.1913 12.5000) translate(0.550 0)" d="M0.18 -0.620 C0.0 -0.620 0.0 0.02 0.18 0.02 C0.36 0.02 0.36 -0.620 0.18 -0.620 Z"/><path vector-effect="non-scaling-stroke" transform="translate(484.500 279.300) scale(10.1913 12.5000) translate(1.000 0)" d="M0.02 -0.620 L0.02 -0.186 C0.02 0.03 0.34 0.03 0.34 -0.186 M0.34 -0.620 L0.34 0"/><path vector-effect="non-scaling-stroke" transform="translate(484.500 279.300) scale(10.1913 12.5000) translate(1.450 0)" d="M0.02 -0.620 L0.02 0.38 M0.02 -0.403 C0.1 -0.651 0.36 -0.632 0.36 -0.310 C0.36 0.02 0.1 0.03 0.02 -0.155"/></g></svg>
<div class="bd" style="left:244.00px;top:137.00px;width:79.70px;height:7.60px;"><span id="b0" style="top:4.03px;font-size:5.93px;transform:scaleX(0.9530);">Upgrade Great Panini +$2.25</span></div>
<div class="bd" style="left:244.00px;top:166.00px;width:76.00px;height:7.40px;"><span id="b1" style="top:3.92px;font-size:5.77px;transform:scaleX(0.9509);">Upgrade Small Salad +$1.50</span></div>
<div class="bd" style="left:65.00px;top:279.40px;width:30.60px;height:7.60px;"><span id="b2" style="top:4.03px;font-size:5.93px;transform:scaleX(0.9426);">one/dozen</span></div>
<div class="bd" style="left:243.40px;top:276.30px;width:55.20px;height:7.20px;"><span id="b3" style="top:3.81px;font-size:5.62px;transform:scaleX(0.9852);">1/2 pound / 1 pound</span></div>
<div class="bd" style="left:661.30px;top:159.60px;width:66.50px;height:7.00px;"><span id="b5" style="top:3.71px;font-size:5.46px;transform:scaleX(1.0137);">Base: Feta/Tuna/Cheese</span></div>
<div class="ld" style="left:88.50px;top:294.00px;width:51.00px"></div>
<div class="ld" style="left:295.00px;top:290.50px;width:27.00px"></div>
<div class="ld" style="left:513.75px;top:17.00px;width:57.50px"></div>
<div class="ld" style="left:510.60px;top:35.40px;width:60.65px"></div>
<div class="ld" style="left:711.25px;top:17.40px;width:35.00px"></div>
<div class="ld" style="left:652.50px;top:35.50px;width:93.75px"></div>
<div class="ld" style="left:685.00px;top:0.00px;width:61.00px"></div>
<svg style="left:216.30px;top:18.90px" width="19" height="19" viewBox="0 0 19 19"><rect width="19" height="19" fill="#8dc63f"/><path d="M3.4 8.6 L7.9 14.4 L15.2 3.2" fill="none" stroke="#f0fae4" stroke-width="1.8"/></svg>
<svg style="left:216.50px;top:116.50px" width="19" height="19" viewBox="0 0 19 19"><rect width="19" height="19" fill="#8dc63f"/><path d="M3.4 8.6 L7.9 14.4 L15.2 3.2" fill="none" stroke="#f0fae4" stroke-width="1.8"/></svg>
</div></div>
<div class="tile" style="top:301px;height:299px"><div class="inner" style="top:-301px">
<svg style="left:0;top:0" width="800" height="600"><path d="M 163.00 250.00 C 199.83 250.17, 162.83 287.33, 161.00 301.00 C 159.17 314.67, 156.88 322.60, 152.00 332.00 C 147.12 341.40, 141.45 349.80, 131.70 357.40 C 121.95 365.00, 107.30 372.83, 93.50 377.60 C 79.70 382.37, 64.48 385.65, 48.90 386.00 C 33.32 386.35, 14.82 383.20, 0.00 379.70 C -14.82 376.20, -30.00 378.28, -40.00 365.00 C -50.00 351.72, -93.83 319.17, -60.00 300.00 C -26.17 280.83, 126.17 249.83, 163.00 250.00 Z" fill="#8dc63f"/></svg>
<svg style="left:0;top:0" width="800" height="600"><ellipse cx="54.7" cy="300.6" rx="7" ry="2.6" fill="#fff"/></svg>
<svg style="left:0;top:0" width="800" height="600"><defs><clipPath id="ic7"><circle cx="100.30" cy="433.50" r="14.10"/></clipPath></defs><circle cx="99.90" cy="435.60" r="16.60" fill="rgba(0,0,0,0.16)" filter="url(#blur)"/><circle cx="100.30" cy="434.30" r="16.40" fill="#f0ecea"/><circle cx="100.30" cy="433.50" r="14.10" fill="#5a3028"/><g clip-path="url(#ic7)"><circle cx="98.80" cy="428.30" r="6.30" fill="#9a6a5e" filter="url(#blur2)"/><circle cx="97.80" cy="427.10" r="3.47" fill="#b88a7c" opacity="0.7" filter="url(#blur2)"/><circle cx="106.80" cy="435.80" r="6.60" fill="#9a6a5e" filter="url(#blur2)"/><circle cx="105.80" cy="434.60" r="3.63" fill="#b88a7c" opacity="0.7" filter="url(#blur2)"/><circle cx="94.80" cy="439.30" r="6.40" fill="#9a6a5e" filter="url(#blur2)"/><circle cx="93.80" cy="438.10" r="3.52" fill="#b88a7c" opacity="0.7" filter="url(#blur2)"/><ellipse cx="95.58" cy="424.94" rx="0.52" ry="0.81" fill="#6a3a32" transform="rotate(17 95.58 424.94)"/><ellipse cx="102.52" cy="445.28" rx="0.52" ry="0.62" fill="#7a4a40" transform="rotate(13 102.52 445.28)"/><ellipse cx="89.33" cy="432.28" rx="0.56" ry="0.51" fill="#6a3a32" transform="rotate(113 89.33 432.28)"/><ellipse cx="112.30" cy="436.37" rx="0.52" ry="0.51" fill="#a87060" transform="rotate(100 112.30 436.37)"/><ellipse cx="90.47" cy="432.13" rx="0.56" ry="0.55" fill="#6a3a32" transform="rotate(147 90.47 432.13)"/><ellipse cx="91.74" cy="436.49" rx="0.59" ry="0.45" fill="#6a3a32" transform="rotate(128 91.74 436.49)"/><ellipse cx="102.03" cy="437.49" rx="0.84" ry="0.61" fill="#a87060" transform="rotate(57 102.03 437.49)"/><ellipse cx="102.59" cy="433.05" rx="0.62" ry="0.49" fill="#a87060" transform="rotate(140 102.59 433.05)"/><ellipse cx="89.09" cy="428.95" rx="0.94" ry="0.76" fill="#a87060" transform="rotate(52 89.09 428.95)"/><ellipse cx="98.11" cy="441.19" rx="0.97" ry="0.61" fill="#7a4a40" transform="rotate(173 98.11 441.19)"/><ellipse cx="88.98" cy="435.86" rx="0.67" ry="0.58" fill="#a87060" transform="rotate(89 88.98 435.86)"/><ellipse cx="89.41" cy="428.13" rx="0.83" ry="0.43" fill="#6a3a32" transform="rotate(126 89.41 428.13)"/><ellipse cx="108.93" cy="428.53" rx="0.94" ry="0.57" fill="#a87060" transform="rotate(169 108.93 428.53)"/><ellipse cx="96.43" cy="437.27" rx="0.53" ry="0.78" fill="#a87060" transform="rotate(23 96.43 437.27)"/><ellipse cx="93.54" cy="431.38" rx="0.54" ry="0.62" fill="#a87060" transform="rotate(99 93.54 431.38)"/><ellipse cx="110.05" cy="428.36" rx="0.99" ry="0.74" fill="#a87060" transform="rotate(68 110.05 428.36)"/><ellipse cx="90.95" cy="438.55" rx="0.74" ry="0.69" fill="#7a4a40" transform="rotate(47 90.95 438.55)"/><ellipse cx="96.80" cy="436.08" rx="0.85" ry="0.66" fill="#7a4a40" transform="rotate(111 96.80 436.08)"/><ellipse cx="105.02" cy="422.35" rx="0.90" ry="0.60" fill="#6a3a32" transform="rotate(72 105.02 422.35)"/><ellipse cx="89.67" cy="437.90" rx="0.60" ry="0.89" fill="#7a4a40" transform="rotate(79 89.67 437.90)"/><ellipse cx="89.85" cy="437.00" rx="0.50" ry="0.48" fill="#7a4a40" transform="rotate(18 89.85 437.00)"/><ellipse cx="110.33" cy="437.36" rx="0.82" ry="0.88" fill="#7a4a40" transform="rotate(108 110.33 437.36)"/><ellipse cx="99.61" cy="423.99" rx="1.00" ry="0.63" fill="#a87060" transform="rotate(87 99.61 423.99)"/><ellipse cx="96.08" cy="428.00" rx="0.58" ry="0.41" fill="#6a3a32" transform="rotate(171 96.08 428.00)"/><ellipse cx="101.06" cy="424.83" rx="0.96" ry="0.78" fill="#6a3a32" transform="rotate(54 101.06 424.83)"/><ellipse cx="97.30" cy="431.80" rx="3" ry="1.6" fill="#6a9a3a" transform="rotate(20 97.30 431.80)"/></g></svg>
<svg style="left:0;top:0" width="800" height="600"><defs><clipPath id="ic8"><circle cx="199.30" cy="433.20" r="13.80"/></clipPath></defs><circle cx="198.90" cy="435.30" r="16.30" fill="rgba(0,0,0,0.16)" filter="url(#blur)"/><circle cx="199.30" cy="434.00" r="16.10" fill="#e8dcb8"/><circle cx="199.30" cy="433.20" r="13.80" fill="#d8cca0"/><g clip-path="url(#ic8)"><circle cx="195.80" cy="426.50" r="6.80" fill="#eee9d2" filter="url(#blur2)"/><circle cx="194.80" cy="425.30" r="3.74" fill="#faf8ee" opacity="0.7" filter="url(#blur2)"/><circle cx="206.30" cy="434.00" r="7.20" fill="#eee9d2" filter="url(#blur2)"/><circle cx="205.30" cy="432.80" r="3.96" fill="#faf8ee" opacity="0.7" filter="url(#blur2)"/><circle cx="196.30" cy="440.80" r="7.20" fill="#eee9d2" filter="url(#blur2)"/><circle cx="195.30" cy="439.60" r="3.96" fill="#faf8ee" opacity="0.7" filter="url(#blur2)"/><ellipse cx="189.51" cy="439.37" rx="0.57" ry="0.81" fill="#dcd4b4" transform="rotate(91 189.51 439.37)"/><ellipse cx="196.70" cy="421.69" rx="0.73" ry="0.65" fill="#f4f0de" transform="rotate(35 196.70 421.69)"/><ellipse cx="193.19" cy="431.58" rx="0.86" ry="0.73" fill="#f4f0de" transform="rotate(17 193.19 431.58)"/><ellipse cx="207.53" cy="431.02" rx="0.55" ry="0.43" fill="#f4f0de" transform="rotate(42 207.53 431.02)"/><ellipse cx="199.74" cy="426.35" rx="0.80" ry="0.67" fill="#dcd4b4" transform="rotate(7 199.74 426.35)"/><ellipse cx="204.59" cy="424.78" rx="0.86" ry="0.84" fill="#f4f0de" transform="rotate(51 204.59 424.78)"/><ellipse cx="195.55" cy="443.91" rx="0.58" ry="0.70" fill="#dcd4b4" transform="rotate(96 195.55 443.91)"/><ellipse cx="194.42" cy="430.25" rx="0.75" ry="0.50" fill="#f4f0de" transform="rotate(27 194.42 430.25)"/><ellipse cx="200.05" cy="434.26" rx="0.90" ry="0.83" fill="#dcd4b4" transform="rotate(164 200.05 434.26)"/><ellipse cx="200.48" cy="429.92" rx="0.65" ry="0.51" fill="#dcd4b4" transform="rotate(6 200.48 429.92)"/><ellipse cx="192.88" cy="428.72" rx="0.59" ry="0.60" fill="#f4f0de" transform="rotate(30 192.88 428.72)"/><ellipse cx="191.49" cy="440.98" rx="0.56" ry="0.80" fill="#f4f0de" transform="rotate(68 191.49 440.98)"/><ellipse cx="208.11" cy="435.81" rx="0.57" ry="0.68" fill="#dcd4b4" transform="rotate(73 208.11 435.81)"/><ellipse cx="203.58" cy="440.92" rx="0.58" ry="0.87" fill="#f4f0de" transform="rotate(88 203.58 440.92)"/><ellipse cx="190.09" cy="436.74" rx="0.51" ry="0.47" fill="#dcd4b4" transform="rotate(70 190.09 436.74)"/><ellipse cx="201.23" cy="440.39" rx="0.66" ry="0.58" fill="#f4f0de" transform="rotate(116 201.23 440.39)"/><ellipse cx="199.27" cy="422.49" rx="0.94" ry="0.83" fill="#dcd4b4" transform="rotate(146 199.27 422.49)"/><ellipse cx="207.59" cy="425.41" rx="0.98" ry="0.62" fill="#f4f0de" transform="rotate(15 207.59 425.41)"/><ellipse cx="202.06" cy="433.93" rx="0.90" ry="0.59" fill="#f4f0de" transform="rotate(20 202.06 433.93)"/><ellipse cx="205.09" cy="437.88" rx="0.76" ry="0.45" fill="#f4f0de" transform="rotate(167 205.09 437.88)"/><ellipse cx="200.97" cy="442.29" rx="0.61" ry="0.50" fill="#f4f0de" transform="rotate(80 200.97 442.29)"/><ellipse cx="189.03" cy="439.90" rx="0.83" ry="0.81" fill="#dcd4b4" transform="rotate(95 189.03 439.90)"/><ellipse cx="201.93" cy="442.36" rx="0.75" ry="0.56" fill="#dcd4b4" transform="rotate(69 201.93 442.36)"/><ellipse cx="199.82" cy="426.04" rx="0.81" ry="0.85" fill="#f4f0de" transform="rotate(134 199.82 426.04)"/><ellipse cx="192.06" cy="428.67" rx="0.99" ry="0.58" fill="#f4f0de" transform="rotate(169 192.06 428.67)"/><ellipse cx="194.30" cy="432.50" rx="3" ry="1.6" fill="#6a9a3a" transform="rotate(20 194.30 432.50)"/></g></svg>
<svg style="left:0;top:0" width="800" height="600"><defs><clipPath id="fwc"><circle cx="298.00" cy="434.60" r="14.20"/></clipPath></defs><circle cx="297.60" cy="435.90" r="15.70" fill="rgba(0,0,0,0.16)" filter="url(#blur)"/><circle cx="298.00" cy="434.60" r="15.50" fill="#eee8e4"/><g clip-path="url(#fwc)"><rect x="278.0" y="414.6" width="40" height="40" fill="#9a6a60"/><path d="M286.0 418.6 L312.0 420.6 L300.0 433.6 Z" fill="#d8a0a4"/><path d="M281.0 426.6 L299.0 434.6 L290.0 449.6 Z" fill="#b87868"/><path d="M315.0 428.6 L299.0 435.6 L308.0 449.6 Z" fill="#dcdcc0"/><line x1="283.0" y1="429.6" x2="296.0" y2="431.6" stroke="#8a4a48" stroke-width="0.6"/><line x1="301.0" y1="431.6" x2="313.0" y2="429.6" stroke="#a8a888" stroke-width="0.6"/><line x1="290.0" y1="421.6" x2="308.0" y2="422.6" stroke="#b06a74" stroke-width="0.6"/><line x1="283.0" y1="432.6" x2="296.0" y2="434.6" stroke="#8a4a48" stroke-width="0.6"/><line x1="301.0" y1="434.6" x2="313.0" y2="432.6" stroke="#a8a888" stroke-width="0.6"/><line x1="290.0" y1="423.6" x2="308.0" y2="424.6" stroke="#b06a74" stroke-width="0.6"/><line x1="283.0" y1="435.6" x2="296.0" y2="437.6" stroke="#8a4a48" stroke-width="0.6"/><line x1="301.0" y1="437.6" x2="313.0" y2="435.6" stroke="#a8a888" stroke-width="0.6"/><line x1="290.0" y1="425.6" x2="308.0" y2="426.6" stroke="#b06a74" stroke-width="0.6"/><line x1="283.0" y1="438.6" x2="296.0" y2="440.6" stroke="#8a4a48" stroke-width="0.6"/><line x1="301.0" y1="440.6" x2="313.0" y2="438.6" stroke="#a8a888" stroke-width="0.6"/><line x1="290.0" y1="427.6" x2="308.0" y2="428.6" stroke="#b06a74" stroke-width="0.6"/><line x1="283.0" y1="441.6" x2="296.0" y2="443.6" stroke="#8a4a48" stroke-width="0.6"/><line x1="301.0" y1="443.6" x2="313.0" y2="441.6" stroke="#a8a888" stroke-width="0.6"/><line x1="290.0" y1="429.6" x2="308.0" y2="430.6" stroke="#b06a74" stroke-width="0.6"/><ellipse cx="298.5" cy="435.6" rx="4" ry="5" fill="#6a9a3a" filter="url(#blur2)"/></g></svg>
<svg style="left:0;top:0" width="800" height="600"><defs><clipPath id="c9"><circle cx="518.60" cy="473.00" r="9.40"/></clipPath></defs><circle cx="518.10" cy="474.20" r="13.30" fill="rgba(0,0,0,0.16)" filter="url(#blur)"/><circle cx="518.60" cy="473.00" r="13.00" fill="#eeedf0"/><circle cx="518.60" cy="473.00" r="9.40" fill="#e8c858"/><g clip-path="url(#c9)"><ellipse cx="519.94" cy="471.66" rx="0.96" ry="1.29" fill="#f0d870" transform="rotate(148 519.94 471.66)"/><ellipse cx="521.49" cy="466.61" rx="1.06" ry="0.84" fill="#e0c048" transform="rotate(172 521.49 466.61)"/><ellipse cx="525.37" cy="474.94" rx="1.14" ry="1.30" fill="#e0c048" transform="rotate(47 525.37 474.94)"/><ellipse cx="512.48" cy="469.30" rx="0.91" ry="1.25" fill="#f8e8a0" transform="rotate(177 512.48 469.30)"/><ellipse cx="514.89" cy="470.48" rx="1.05" ry="1.08" fill="#d8b038" transform="rotate(78 514.89 470.48)"/><ellipse cx="510.42" cy="474.59" rx="1.47" ry="1.42" fill="#d8b038" transform="rotate(43 510.42 474.59)"/><ellipse cx="520.61" cy="464.95" rx="0.92" ry="1.09" fill="#f0d870" transform="rotate(67 520.61 464.95)"/><ellipse cx="520.50" cy="465.72" rx="1.15" ry="1.43" fill="#f0d870" transform="rotate(34 520.50 465.72)"/><ellipse cx="517.58" cy="476.40" rx="1.29" ry="0.78" fill="#d8b038" transform="rotate(22 517.58 476.40)"/><ellipse cx="517.77" cy="466.70" rx="1.42" ry="1.02" fill="#d8b038" transform="rotate(63 517.77 466.70)"/><ellipse cx="522.60" cy="469.84" rx="0.99" ry="0.85" fill="#f8e8a0" transform="rotate(73 522.60 469.84)"/><ellipse cx="518.52" cy="480.40" rx="1.22" ry="1.12" fill="#f8e8a0" transform="rotate(11 518.52 480.40)"/><ellipse cx="518.40" cy="472.28" rx="0.91" ry="1.07" fill="#e0c048" transform="rotate(63 518.40 472.28)"/><ellipse cx="516.49" cy="476.79" rx="0.88" ry="1.42" fill="#e0c048" transform="rotate(149 516.49 476.79)"/><ellipse cx="525.59" cy="471.85" rx="0.84" ry="0.71" fill="#f0d870" transform="rotate(20 525.59 471.85)"/><ellipse cx="518.32" cy="472.22" rx="1.42" ry="1.38" fill="#e0c048" transform="rotate(62 518.32 472.22)"/><ellipse cx="514.07" cy="478.43" rx="1.14" ry="1.16" fill="#e0c048" transform="rotate(164 514.07 478.43)"/><ellipse cx="512.09" cy="468.06" rx="1.35" ry="1.15" fill="#f0d870" transform="rotate(106 512.09 468.06)"/><ellipse cx="524.79" cy="472.60" rx="1.57" ry="0.99" fill="#f0d870" transform="rotate(155 524.79 472.60)"/><ellipse cx="522.70" cy="480.31" rx="1.28" ry="1.08" fill="#f0d870" transform="rotate(177 522.70 480.31)"/><ellipse cx="512.26" cy="472.57" rx="1.28" ry="1.38" fill="#f8e8a0" transform="rotate(35 512.26 472.57)"/><ellipse cx="515.78" cy="465.10" rx="1.14" ry="1.43" fill="#d8b038" transform="rotate(123 515.78 465.10)"/><ellipse cx="525.43" cy="477.73" rx="1.16" ry="1.23" fill="#e0c048" transform="rotate(38 525.43 477.73)"/><ellipse cx="520.43" cy="465.78" rx="0.97" ry="1.13" fill="#f0d870" transform="rotate(157 520.43 465.78)"/><ellipse cx="525.58" cy="475.86" rx="1.42" ry="1.28" fill="#f0d870" transform="rotate(148 525.58 475.86)"/><ellipse cx="515.74" cy="470.37" rx="1.41" ry="1.14" fill="#e0c048" transform="rotate(51 515.74 470.37)"/><ellipse cx="522.27" cy="473.12" rx="1.12" ry="1.15" fill="#f8e8a0" transform="rotate(63 522.27 473.12)"/><ellipse cx="514.41" cy="480.63" rx="1.27" ry="0.71" fill="#e0c048" transform="rotate(97 514.41 480.63)"/><ellipse cx="516.10" cy="477.18" rx="1.57" ry="1.43" fill="#d8b038" transform="rotate(130 516.10 477.18)"/><ellipse cx="515.36" cy="469.66" rx="1.29" ry="0.87" fill="#e0c048" transform="rotate(34 515.36 469.66)"/><ellipse cx="513.33" cy="477.60" rx="0.95" ry="1.10" fill="#e0c048" transform="rotate(79 513.33 477.60)"/><ellipse cx="525.14" cy="474.40" rx="1.50" ry="1.17" fill="#f8e8a0" transform="rotate(104 525.14 474.40)"/><ellipse cx="526.78" cy="469.70" rx="1.42" ry="0.73" fill="#d8b038" transform="rotate(142 526.78 469.70)"/><ellipse cx="515.69" cy="466.69" rx="0.87" ry="0.99" fill="#f8e8a0" transform="rotate(159 515.69 466.69)"/><ellipse cx="517.56" cy="472.45" rx="1.38" ry="1.43" fill="#e0c048" transform="rotate(32 517.56 472.45)"/><ellipse cx="524.69" cy="479.06" rx="1.56" ry="1.05" fill="#f8e8a0" transform="rotate(70 524.69 479.06)"/><ellipse cx="511.02" cy="475.65" rx="1.55" ry="0.79" fill="#f0d870" transform="rotate(114 511.02 475.65)"/><ellipse cx="524.12" cy="470.37" rx="1.57" ry="1.12" fill="#e0c048" transform="rotate(30 524.12 470.37)"/><ellipse cx="520.10" cy="465.47" rx="1.47" ry="0.88" fill="#f8e8a0" transform="rotate(153 520.10 465.47)"/><ellipse cx="516.64" cy="477.95" rx="1.08" ry="0.80" fill="#f0d870" transform="rotate(29 516.64 477.95)"/><ellipse cx="516.83" cy="477.74" rx="1.55" ry="0.90" fill="#e0c048" transform="rotate(7 516.83 477.74)"/><ellipse cx="524.87" cy="466.91" rx="0.92" ry="1.15" fill="#e0c048" transform="rotate(125 524.87 466.91)"/><ellipse cx="524.49" cy="468.02" rx="1.38" ry="0.89" fill="#e0c048" transform="rotate(52 524.49 468.02)"/><ellipse cx="521.41" cy="480.36" rx="1.47" ry="1.06" fill="#f8e8a0" transform="rotate(86 521.41 480.36)"/><ellipse cx="513.80" cy="469.06" rx="1.57" ry="0.95" fill="#d8b038" transform="rotate(41 513.80 469.06)"/></g></svg>
<svg style="left:0;top:0" width="800" height="600"><defs><clipPath id="c10"><circle cx="519.00" cy="507.40" r="10.90"/></clipPath></defs><circle cx="518.50" cy="508.60" r="12.70" fill="rgba(0,0,0,0.16)" filter="url(#blur)"/><circle cx="519.00" cy="507.40" r="12.40" fill="#f2e8e0"/><circle cx="519.00" cy="507.40" r="10.90" fill="#c85a30"/><g clip-path="url(#c10)"><ellipse cx="518.45" cy="510.83" rx="1.21" ry="1.06" fill="#f4e0d0" transform="rotate(179 518.45 510.83)"/><ellipse cx="518.62" cy="510.53" rx="1.52" ry="1.26" fill="#e8905a" transform="rotate(100 518.62 510.53)"/><ellipse cx="522.52" cy="499.67" rx="1.23" ry="1.03" fill="#e8905a" transform="rotate(38 522.52 499.67)"/><ellipse cx="520.66" cy="500.85" rx="1.52" ry="1.02" fill="#a83818" transform="rotate(73 520.66 500.85)"/><ellipse cx="519.19" cy="498.48" rx="1.75" ry="0.82" fill="#e8905a" transform="rotate(76 519.19 498.48)"/><ellipse cx="511.04" cy="503.31" rx="1.40" ry="1.60" fill="#a83818" transform="rotate(159 511.04 503.31)"/><ellipse cx="520.20" cy="507.56" rx="1.26" ry="1.10" fill="#d86a3a" transform="rotate(107 520.20 507.56)"/><ellipse cx="518.49" cy="504.88" rx="1.48" ry="0.79" fill="#d86a3a" transform="rotate(35 518.49 504.88)"/><ellipse cx="525.26" cy="502.20" rx="1.68" ry="1.07" fill="#f0c0a0" transform="rotate(56 525.26 502.20)"/><ellipse cx="513.60" cy="503.81" rx="1.36" ry="1.45" fill="#f0c0a0" transform="rotate(90 513.60 503.81)"/><ellipse cx="517.48" cy="507.81" rx="1.51" ry="0.76" fill="#b84020" transform="rotate(37 517.48 507.81)"/><ellipse cx="521.34" cy="512.92" rx="1.06" ry="1.35" fill="#b84020" transform="rotate(7 521.34 512.92)"/><ellipse cx="514.13" cy="504.00" rx="1.55" ry="1.18" fill="#f4e0d0" transform="rotate(66 514.13 504.00)"/><ellipse cx="515.50" cy="506.43" rx="1.76" ry="1.15" fill="#f4e0d0" transform="rotate(172 515.50 506.43)"/><ellipse cx="516.04" cy="500.63" rx="1.10" ry="1.27" fill="#f4e0d0" transform="rotate(171 516.04 500.63)"/><ellipse cx="512.01" cy="513.83" rx="0.94" ry="1.28" fill="#a83818" transform="rotate(177 512.01 513.83)"/><ellipse cx="525.27" cy="514.64" rx="1.01" ry="1.43" fill="#f4e0d0" transform="rotate(90 525.27 514.64)"/><ellipse cx="518.78" cy="504.21" rx="1.75" ry="1.52" fill="#f4e0d0" transform="rotate(29 518.78 504.21)"/><ellipse cx="514.45" cy="515.54" rx="1.20" ry="1.50" fill="#f0c0a0" transform="rotate(115 514.45 515.54)"/><ellipse cx="517.80" cy="513.77" rx="1.16" ry="0.95" fill="#f4e0d0" transform="rotate(123 517.80 513.77)"/><ellipse cx="523.23" cy="499.37" rx="1.28" ry="0.94" fill="#f0c0a0" transform="rotate(78 523.23 499.37)"/><ellipse cx="521.72" cy="516.55" rx="1.58" ry="1.10" fill="#f0c0a0" transform="rotate(106 521.72 516.55)"/><ellipse cx="520.75" cy="504.08" rx="1.47" ry="1.07" fill="#f0c0a0" transform="rotate(29 520.75 504.08)"/><ellipse cx="523.12" cy="499.89" rx="1.62" ry="1.53" fill="#d86a3a" transform="rotate(164 523.12 499.89)"/><ellipse cx="519.76" cy="513.70" rx="1.61" ry="1.36" fill="#e8905a" transform="rotate(34 519.76 513.70)"/><ellipse cx="514.00" cy="513.79" rx="1.39" ry="1.28" fill="#f4e0d0" transform="rotate(22 514.00 513.79)"/><ellipse cx="519.75" cy="511.77" rx="1.42" ry="0.78" fill="#e8905a" transform="rotate(64 519.75 511.77)"/><ellipse cx="509.90" cy="503.75" rx="0.98" ry="1.00" fill="#f4e0d0" transform="rotate(125 509.90 503.75)"/><ellipse cx="524.66" cy="510.87" rx="1.23" ry="0.75" fill="#e8905a" transform="rotate(88 524.66 510.87)"/><ellipse cx="517.77" cy="500.41" rx="1.43" ry="1.13" fill="#f4e0d0" transform="rotate(159 517.77 500.41)"/><ellipse cx="526.60" cy="511.51" rx="1.10" ry="1.55" fill="#f0c0a0" transform="rotate(90 526.60 511.51)"/><ellipse cx="523.32" cy="500.04" rx="1.25" ry="1.17" fill="#e8905a" transform="rotate(127 523.32 500.04)"/><ellipse cx="518.13" cy="513.62" rx="1.65" ry="0.92" fill="#d86a3a" transform="rotate(97 518.13 513.62)"/><ellipse cx="524.70" cy="505.12" rx="1.30" ry="0.77" fill="#f4e0d0" transform="rotate(19 524.70 505.12)"/><ellipse cx="520.53" cy="503.30" rx="1.56" ry="1.01" fill="#d87848" transform="rotate(90 520.53 503.30)"/><ellipse cx="515.97" cy="503.20" rx="1.33" ry="1.44" fill="#b84020" transform="rotate(24 515.97 503.20)"/><ellipse cx="518.88" cy="505.85" rx="1.16" ry="1.56" fill="#f0c0a0" transform="rotate(108 518.88 505.85)"/><ellipse cx="516.58" cy="515.53" rx="1.19" ry="0.83" fill="#a83818" transform="rotate(115 516.58 515.53)"/><ellipse cx="526.47" cy="509.77" rx="1.24" ry="1.10" fill="#d87848" transform="rotate(119 526.47 509.77)"/><ellipse cx="515.51" cy="513.26" rx="1.25" ry="1.08" fill="#e8905a" transform="rotate(145 515.51 513.26)"/><ellipse cx="511.80" cy="500.97" rx="1.00" ry="0.96" fill="#f0c0a0" transform="rotate(160 511.80 500.97)"/><ellipse cx="527.03" cy="510.74" rx="1.64" ry="1.04" fill="#f4e0d0" transform="rotate(132 527.03 510.74)"/><ellipse cx="514.76" cy="499.49" rx="1.18" ry="1.51" fill="#d87848" transform="rotate(135 514.76 499.49)"/><ellipse cx="526.84" cy="508.61" rx="0.91" ry="0.87" fill="#d86a3a" transform="rotate(29 526.84 508.61)"/><ellipse cx="523.71" cy="502.97" rx="1.78" ry="1.42" fill="#b84020" transform="rotate(98 523.71 502.97)"/><ellipse cx="516.05" cy="507.36" rx="1.30" ry="1.19" fill="#b84020" transform="rotate(117 516.05 507.36)"/><ellipse cx="525.56" cy="507.52" rx="1.16" ry="1.04" fill="#f4e0d0" transform="rotate(151 525.56 507.52)"/><ellipse cx="524.61" cy="504.49" rx="1.76" ry="1.33" fill="#d86a3a" transform="rotate(77 524.61 504.49)"/><ellipse cx="516.95" cy="509.75" rx="0.96" ry="1.55" fill="#d87848" transform="rotate(63 516.95 509.75)"/><ellipse cx="513.15" cy="505.72" rx="0.95" ry="0.73" fill="#d87848" transform="rotate(45 513.15 505.72)"/><ellipse cx="510.57" cy="511.44" rx="1.73" ry="1.37" fill="#a83818" transform="rotate(117 510.57 511.44)"/><ellipse cx="521.03" cy="509.30" rx="1.33" ry="0.91" fill="#d87848" transform="rotate(136 521.03 509.30)"/><ellipse cx="517.33" cy="508.34" rx="1.62" ry="1.07" fill="#f0c0a0" transform="rotate(118 517.33 508.34)"/><ellipse cx="515.45" cy="497.78" rx="1.59" ry="1.56" fill="#d87848" transform="rotate(65 515.45 497.78)"/><ellipse cx="514.60" cy="516.63" rx="1.02" ry="0.97" fill="#a83818" transform="rotate(36 514.60 516.63)"/><ellipse cx="510.79" cy="506.00" rx="1.64" ry="1.40" fill="#f0c0a0" transform="rotate(61 510.79 506.00)"/><ellipse cx="516.42" cy="515.30" rx="1.34" ry="0.90" fill="#d87848" transform="rotate(112 516.42 515.30)"/><ellipse cx="519.78" cy="504.38" rx="1.21" ry="0.96" fill="#b84020" transform="rotate(102 519.78 504.38)"/><ellipse cx="526.38" cy="511.02" rx="1.57" ry="0.95" fill="#e8905a" transform="rotate(75 526.38 511.02)"/><ellipse cx="510.33" cy="512.57" rx="1.34" ry="1.05" fill="#f4e0d0" transform="rotate(28 510.33 512.57)"/></g></svg>
<svg style="left:0;top:0" width="800" height="600"><defs><clipPath id="c11"><circle cx="519.00" cy="541.70" r="11.00"/></clipPath></defs><circle cx="518.50" cy="542.90" r="12.80" fill="rgba(0,0,0,0.16)" filter="url(#blur)"/><circle cx="519.00" cy="541.70" r="12.50" fill="#f0eee8"/><circle cx="519.00" cy="541.70" r="11.00" fill="#dccfb0"/><g clip-path="url(#c11)"><ellipse cx="513.70" cy="545.78" rx="1.32" ry="1.17" fill="#c8b890" transform="rotate(156 513.70 545.78)"/><ellipse cx="522.10" cy="534.82" rx="1.23" ry="0.81" fill="#f0e8d0" transform="rotate(53 522.10 534.82)"/><ellipse cx="517.49" cy="549.13" rx="1.59" ry="1.31" fill="#f0e8d0" transform="rotate(15 517.49 549.13)"/><ellipse cx="513.77" cy="540.62" rx="1.56" ry="1.28" fill="#b8a880" transform="rotate(46 513.77 540.62)"/><ellipse cx="526.70" cy="541.41" rx="1.34" ry="1.35" fill="#b8a880" transform="rotate(115 526.70 541.41)"/><ellipse cx="522.42" cy="538.31" rx="1.35" ry="1.08" fill="#f8f2e0" transform="rotate(135 522.42 538.31)"/><ellipse cx="510.97" cy="545.59" rx="1.23" ry="0.87" fill="#b8a880" transform="rotate(32 510.97 545.59)"/><ellipse cx="515.84" cy="538.86" rx="1.28" ry="0.96" fill="#f8f2e0" transform="rotate(24 515.84 538.86)"/><ellipse cx="518.80" cy="535.88" rx="1.51" ry="1.20" fill="#c8b890" transform="rotate(24 518.80 535.88)"/><ellipse cx="517.47" cy="544.54" rx="1.11" ry="1.22" fill="#b8a880" transform="rotate(168 517.47 544.54)"/><ellipse cx="525.73" cy="549.14" rx="0.93" ry="0.97" fill="#f8f2e0" transform="rotate(156 525.73 549.14)"/><ellipse cx="512.47" cy="549.48" rx="1.22" ry="1.17" fill="#f8f2e0" transform="rotate(162 512.47 549.48)"/><ellipse cx="523.49" cy="535.93" rx="0.97" ry="1.13" fill="#b8a880" transform="rotate(105 523.49 535.93)"/><ellipse cx="521.01" cy="538.61" rx="0.95" ry="0.79" fill="#f8f2e0" transform="rotate(142 521.01 538.61)"/><ellipse cx="520.22" cy="550.51" rx="0.86" ry="1.15" fill="#c8b890" transform="rotate(100 520.22 550.51)"/><ellipse cx="519.95" cy="531.55" rx="1.46" ry="1.16" fill="#b8a880" transform="rotate(95 519.95 531.55)"/><ellipse cx="510.78" cy="537.53" rx="1.04" ry="0.86" fill="#b8a880" transform="rotate(108 510.78 537.53)"/><ellipse cx="509.70" cy="541.04" rx="1.48" ry="0.67" fill="#f8f2e0" transform="rotate(58 509.70 541.04)"/><ellipse cx="511.41" cy="543.01" rx="0.98" ry="0.81" fill="#b8a880" transform="rotate(144 511.41 543.01)"/><ellipse cx="516.28" cy="546.41" rx="1.39" ry="0.85" fill="#c8b890" transform="rotate(123 516.28 546.41)"/><ellipse cx="526.68" cy="536.39" rx="1.08" ry="0.84" fill="#c8b890" transform="rotate(52 526.68 536.39)"/><ellipse cx="512.48" cy="538.42" rx="1.05" ry="1.01" fill="#f0e8d0" transform="rotate(12 512.48 538.42)"/><ellipse cx="522.37" cy="537.44" rx="1.18" ry="1.08" fill="#b8a880" transform="rotate(60 522.37 537.44)"/><ellipse cx="514.37" cy="540.27" rx="0.92" ry="0.68" fill="#c8b890" transform="rotate(66 514.37 540.27)"/><ellipse cx="511.44" cy="537.48" rx="1.03" ry="0.92" fill="#b8a880" transform="rotate(18 511.44 537.48)"/><ellipse cx="518.80" cy="543.58" rx="0.83" ry="1.07" fill="#b8a880" transform="rotate(23 518.80 543.58)"/><ellipse cx="525.68" cy="537.80" rx="1.52" ry="1.36" fill="#c8b890" transform="rotate(164 525.68 537.80)"/><ellipse cx="522.99" cy="532.67" rx="0.86" ry="0.85" fill="#f8f2e0" transform="rotate(148 522.99 532.67)"/><ellipse cx="526.21" cy="535.95" rx="0.96" ry="0.95" fill="#b8a880" transform="rotate(10 526.21 535.95)"/><ellipse cx="520.04" cy="531.84" rx="1.55" ry="1.25" fill="#c8b890" transform="rotate(67 520.04 531.84)"/><ellipse cx="516.72" cy="533.98" rx="1.01" ry="0.94" fill="#f8f2e0" transform="rotate(168 516.72 533.98)"/><ellipse cx="519.53" cy="536.67" rx="1.60" ry="1.29" fill="#f0e8d0" transform="rotate(76 519.53 536.67)"/><ellipse cx="521.69" cy="549.03" rx="1.53" ry="0.67" fill="#f8f2e0" transform="rotate(17 521.69 549.03)"/><ellipse cx="516.93" cy="539.23" rx="1.01" ry="1.27" fill="#b8a880" transform="rotate(81 516.93 539.23)"/><ellipse cx="513.70" cy="538.00" rx="1.56" ry="1.40" fill="#c8b890" transform="rotate(67 513.70 538.00)"/><ellipse cx="525.62" cy="539.70" rx="1.17" ry="1.36" fill="#c8b890" transform="rotate(97 525.62 539.70)"/><ellipse cx="512.27" cy="538.96" rx="1.47" ry="0.66" fill="#b8a880" transform="rotate(163 512.27 538.96)"/><ellipse cx="518.60" cy="541.72" rx="0.88" ry="1.11" fill="#c8b890" transform="rotate(55 518.60 541.72)"/><ellipse cx="527.47" cy="541.63" rx="0.97" ry="1.24" fill="#f0e8d0" transform="rotate(117 527.47 541.63)"/><ellipse cx="517.43" cy="551.81" rx="1.42" ry="1.18" fill="#f0e8d0" transform="rotate(54 517.43 551.81)"/><ellipse cx="521.63" cy="545.01" rx="1.54" ry="0.85" fill="#b8a880" transform="rotate(88 521.63 545.01)"/><ellipse cx="521.38" cy="536.06" rx="1.26" ry="1.35" fill="#f0e8d0" transform="rotate(163 521.38 536.06)"/><ellipse cx="522.36" cy="544.08" rx="0.99" ry="1.05" fill="#b8a880" transform="rotate(2 522.36 544.08)"/><ellipse cx="516.12" cy="533.96" rx="1.45" ry="1.31" fill="#b8a880" transform="rotate(123 516.12 533.96)"/><ellipse cx="523.86" cy="545.38" rx="1.01" ry="0.75" fill="#f0e8d0" transform="rotate(131 523.86 545.38)"/><ellipse cx="521.12" cy="531.94" rx="1.29" ry="1.05" fill="#c8b890" transform="rotate(140 521.12 531.94)"/><ellipse cx="527.28" cy="539.08" rx="1.44" ry="1.05" fill="#b8a880" transform="rotate(12 527.28 539.08)"/><ellipse cx="526.90" cy="542.30" rx="1.07" ry="1.18" fill="#f8f2e0" transform="rotate(164 526.90 542.30)"/><ellipse cx="523.04" cy="538.96" rx="1.41" ry="1.39" fill="#f0e8d0" transform="rotate(54 523.04 538.96)"/><ellipse cx="523.69" cy="539.27" rx="1.25" ry="1.24" fill="#b8a880" transform="rotate(14 523.69 539.27)"/><ellipse cx="512.74" cy="533.91" rx="1.59" ry="1.31" fill="#f8f2e0" transform="rotate(96 512.74 533.91)"/><ellipse cx="517.49" cy="543.05" rx="0.96" ry="1.42" fill="#f0e8d0" transform="rotate(16 517.49 543.05)"/><ellipse cx="509.47" cy="539.21" rx="1.05" ry="1.43" fill="#c8b890" transform="rotate(29 509.47 539.21)"/><ellipse cx="511.92" cy="547.64" rx="1.36" ry="1.28" fill="#b8a880" transform="rotate(154 511.92 547.64)"/><ellipse cx="521.66" cy="542.11" rx="0.87" ry="1.26" fill="#c8b890" transform="rotate(55 521.66 542.11)"/><ellipse cx="514.54" cy="536.47" rx="1.53" ry="0.86" fill="#b8a880" transform="rotate(129 514.54 536.47)"/><ellipse cx="510.13" cy="545.04" rx="0.84" ry="0.74" fill="#c8b890" transform="rotate(135 510.13 545.04)"/><ellipse cx="521.74" cy="532.90" rx="1.15" ry="0.72" fill="#b8a880" transform="rotate(127 521.74 532.90)"/><ellipse cx="520.66" cy="539.94" rx="0.99" ry="0.91" fill="#b8a880" transform="rotate(65 520.66 539.94)"/><ellipse cx="525.55" cy="548.71" rx="0.81" ry="1.38" fill="#b8a880" transform="rotate(127 525.55 548.71)"/></g></svg>
<svg style="left:0;top:0" width="800" height="600"><path d="M93.20 526.50 L107.50 526.50 L106.36 549.00 L94.34 549.00 Z" fill="#efe8dc"/><path d="M93.77 537.50 L106.93 537.50 L106.36 549.00 L94.34 549.00 Z" fill="#c9a47a"/><rect x="92.90" y="526.00" width="14.90" height="2" rx="1" fill="#e4dccf"/></svg>
<svg style="left:0;top:0" width="800" height="600"><path d="M192.20 525.70 L206.50 525.70 L205.36 549.70 L193.34 549.70 Z" fill="#ede6de"/><path d="M192.77 537.50 L205.93 537.50 L205.36 549.70 L193.34 549.70 Z" fill="#c9a07a"/><rect x="191.90" y="525.20" width="14.90" height="2" rx="1" fill="#8a6a58"/></svg>
<svg style="left:0;top:0" width="800" height="600"><line x1="295.6" y1="507.5" x2="297.6" y2="524" stroke="#333" stroke-width="1.2"/><path d="M288.7 524.2 L305 524.2 L302.5 549.2 L291.2 549.2 Z" fill="#c0a674"/><rect x="288.3" y="523.5" width="17" height="3" fill="#ddd0b0"/><path d="M290 530 L303.6 530 L302.5 549.2 L291.2 549.2 Z" fill="#a88a55" opacity="0.6"/></svg>
<svg style="left:0;top:0" width="800" height="600"><line x1="96.6" y1="582.5" x2="99.3" y2="595" stroke="#3a3a3a" stroke-width="1.1"/><path d="M92.5 595.5 L107.5 595.5 L107 602 L93 602 Z" fill="#6a3a30"/><rect x="92.3" y="594.5" width="15.4" height="1.5" fill="#e8e0dc"/><path d="M192 600.5 C 193 593, 198 590.5, 202 591 C 207 591.5, 210.5 595, 210.5 600.5 Z" fill="#e0b890" filter="url(#blur2)"/><ellipse cx="200.5" cy="593.5" rx="2.6" ry="1.8" fill="#6a4a3a" filter="url(#blur2)"/><ellipse cx="206" cy="597.5" rx="3" ry="2" fill="#a07040" filter="url(#blur2)"/><line x1="294.8" y1="583" x2="297.4" y2="595.3" stroke="#2a2a2a" stroke-width="1.1"/><path d="M288 596 L304 596 L304 602 L288 602 Z" fill="#eedcc0" filter="url(#blur2)"/></svg>
<svg style="left:0;top:0" width="800" height="600"><rect x="435.60" y="287.7" width="18.8" height="19" fill="#8dc63f"/><path d="M439.20 297.3 L443.20 302.3 L450.80 291.5" fill="none" stroke="#eaf8d6" stroke-width="1.6"/></svg>
<svg style="left:0;top:0" width="800" height="600"><rect x="616.40" y="287.7" width="18.8" height="19" fill="#8dc63f"/><path d="M620.00 297.3 L624.00 302.3 L631.60 291.5" fill="none" stroke="#eaf8d6" stroke-width="1.6"/></svg>
<div class="t" id="t26" style="left:182.00px;top:302px;font-size:6.60px;color:#484848;-webkit-text-stroke:0.12px currentColor;transform:scaleX(0.9355);">Chocolate/Cinnamon</div>
<div class="t" id="t27" style="left:182.00px;top:318px;font-size:7.60px;color:#1c1a1a;font-weight:bold;-webkit-text-stroke:0.20px currentColor;transform:scaleX(0.9412);">Rugelach</div>
<div class="t" id="t28" style="left:317.50px;top:318px;font-size:8.00px;color:#444;-webkit-text-stroke:0.12px currentColor;transform:scaleX(0.9894);">$4.99 / $8.99</div>
<div class="t" id="t29" style="left:182.00px;top:327px;font-size:6.60px;color:#484848;-webkit-text-stroke:0.12px currentColor;transform:scaleX(0.9355);">Chocolate/Cinnamon</div>
<div class="t" id="t30" style="left:182.00px;top:349px;font-size:7.60px;color:#1c1a1a;font-weight:bold;-webkit-text-stroke:0.20px currentColor;transform:scaleX(0.9889);">Muffins</div>
<div class="t" id="t31" style="left:317.50px;top:349px;font-size:8.00px;color:#444;-webkit-text-stroke:0.12px currentColor;transform:scaleX(0.9894);">$2.85 / $3.25</div>
<div class="t" id="t32" style="left:182.00px;top:357px;font-size:6.60px;color:#484848;-webkit-text-stroke:0.12px currentColor;transform:scaleX(0.9378);">Blueberry, Carrot, Chocolate chips, Double Chocolate chip, Whole</div>
<div class="t" id="t33" style="left:182.00px;top:365px;font-size:6.60px;color:#484848;-webkit-text-stroke:0.12px currentColor;transform:scaleX(0.9379);">Wheat Chocolate chip, Gluten free Double Chocolate chip</div>
<div class="t" id="t34" style="left:83.00px;top:463px;font-size:7.00px;color:#1c1a1a;font-weight:bold;-webkit-text-stroke:0.20px currentColor;">Chocolate</div>
<div class="t" id="t35" style="left:65.00px;top:471px;font-size:6.00px;color:#3a3a3a;-webkit-text-stroke:0.12px currentColor;transform:scaleX(1.0688);"><b>S</b> $3.75 / <b>M</b> 4.50 / <b>L</b> $5.50</div>
<div class="t" id="t36" style="left:187.50px;top:463px;font-size:7.00px;color:#1c1a1a;font-weight:bold;-webkit-text-stroke:0.20px currentColor;transform:scaleX(0.9783);">Vanilla</div>
<div class="t" id="t37" style="left:163.75px;top:471px;font-size:6.00px;color:#3a3a3a;-webkit-text-stroke:0.12px currentColor;transform:scaleX(1.0688);"><b>S</b> $3.75 / <b>M</b> 4.50 / <b>L</b> $5.50</div>
<div class="t" id="t38" style="left:265.00px;top:463px;font-size:7.00px;color:#1c1a1a;font-weight:bold;-webkit-text-stroke:0.20px currentColor;transform:scaleX(1.0484);">Flavor of the Week</div>
<div class="t" id="t39" style="left:262.00px;top:471px;font-size:6.00px;color:#3a3a3a;-webkit-text-stroke:0.12px currentColor;transform:scaleX(1.0725);"><b>S</b> $3.75 / <b>M</b> 4.50 / <b>L</b> $5.50</div>
<div class="t" id="t40" style="left:89.50px;top:559px;font-size:7.00px;color:#1c1a1a;font-weight:bold;-webkit-text-stroke:0.20px currentColor;transform:scaleX(1.0227);">Coffee</div>
<div class="t" id="t41" style="left:92.50px;top:566px;font-size:6.40px;color:#2a2a2a;-webkit-text-stroke:0.12px currentColor;transform:scaleX(1.0312);">$2.49</div>
<div class="t" id="t42" style="left:175.70px;top:559px;font-size:7.00px;color:#1c1a1a;font-weight:bold;-webkit-text-stroke:0.20px currentColor;transform:scaleX(1.0213);">Hot Chocolate</div>
<div class="t" id="t43" style="left:190.70px;top:566px;font-size:6.40px;color:#2a2a2a;-webkit-text-stroke:0.12px currentColor;transform:scaleX(1.0813);">$4.00</div>
<div class="t" id="t44" style="left:280.80px;top:559px;font-size:7.00px;color:#1c1a1a;font-weight:bold;-webkit-text-stroke:0.20px currentColor;transform:scaleX(1.0364);">Ice Coffee</div>
<div class="t" id="t45" style="left:258.30px;top:566px;font-size:6.20px;color:#2a2a2a;-webkit-text-stroke:0.12px currentColor;transform:scaleX(1.0560);"><b>S</b> $4.00 / <b>M</b> $5.00 / <b>L</b> $6.00</div>
<div class="t" id="t74" style="left:462.00px;top:301px;font-size:6.60px;color:#484848;-webkit-text-stroke:0.12px currentColor;transform:scaleX(0.9171);">3 Cheeses melted in a baguette with vegetables</div>
<div class="t" id="t75" style="left:462.00px;top:309px;font-size:6.60px;color:#484848;-webkit-text-stroke:0.12px currentColor;transform:scaleX(0.9070);">of your choice.</div>
<div class="t" id="t76" style="left:462.00px;top:317px;font-size:6.60px;color:#484848;-webkit-text-stroke:0.12px currentColor;transform:scaleX(0.9010);">Served with Hash Browns or Fries.</div>
<div class="t" id="t77" style="left:462.00px;top:325px;font-size:6.40px;color:#1c1a1a;font-weight:bold;-webkit-text-stroke:0.20px currentColor;transform:scaleX(0.9105);">$11.99</div>
<div class="t" id="t78" style="left:462.00px;top:357px;font-size:7.40px;color:#1c1a1a;font-weight:bold;-webkit-text-stroke:0.20px currentColor;transform:scaleX(0.9971);">Tuna Melt</div>
<div class="t" id="t79" style="left:462.00px;top:365px;font-size:6.60px;color:#484848;-webkit-text-stroke:0.12px currentColor;transform:scaleX(0.9299);">Cheddar cheese melted together with tuna and</div>
<div class="t" id="t80" style="left:462.00px;top:373px;font-size:6.60px;color:#484848;-webkit-text-stroke:0.12px currentColor;transform:scaleX(0.9158);">vegetables of your choice.</div>
<div class="t" id="t81" style="left:462.00px;top:381px;font-size:6.60px;color:#484848;-webkit-text-stroke:0.12px currentColor;transform:scaleX(0.9010);">Served with Hash Browns or Fries.</div>
<div class="t" id="t82" style="left:462.00px;top:389px;font-size:6.40px;color:#1c1a1a;font-weight:bold;-webkit-text-stroke:0.20px currentColor;transform:scaleX(0.9268);">$10.99/$11.99</div>
<div class="t" id="t83" style="left:642.00px;top:301px;font-size:6.60px;color:#484848;-webkit-text-stroke:0.12px currentColor;transform:scaleX(0.9254);">4 Cheeses melted in a baguette with tuna and</div>
<div class="t" id="t84" style="left:642.00px;top:309px;font-size:6.60px;color:#484848;-webkit-text-stroke:0.12px currentColor;transform:scaleX(0.9211);">vegetables of your choice.</div>
<div class="t" id="t85" style="left:642.00px;top:317px;font-size:6.60px;color:#484848;-webkit-text-stroke:0.12px currentColor;transform:scaleX(0.9030);">Served with Hash Browns or Fries.</div>
<div class="t" id="t86" style="left:642.00px;top:325px;font-size:6.40px;color:#1c1a1a;font-weight:bold;-webkit-text-stroke:0.20px currentColor;transform:scaleX(0.9000);">$13.99</div>
<div class="t" id="t87" style="left:642.00px;top:345px;font-size:7.40px;color:#1c1a1a;font-weight:bold;-webkit-text-stroke:0.20px currentColor;transform:scaleX(1.0226);">Wrap Tuna/Egg</div>
<div class="t" id="t88" style="left:642.00px;top:352px;font-size:6.40px;color:#1c1a1a;font-weight:bold;-webkit-text-stroke:0.20px currentColor;transform:scaleX(0.9688);">$6.85</div>
<div class="t" id="t89" style="left:642.00px;top:377px;font-size:7.40px;color:#1c1a1a;font-weight:bold;-webkit-text-stroke:0.20px currentColor;transform:scaleX(0.9744);">Scrambled Eggs Wrap</div>
<div class="t" id="t90" style="left:642.00px;top:385px;font-size:6.40px;color:#1c1a1a;font-weight:bold;-webkit-text-stroke:0.20px currentColor;transform:scaleX(0.9688);">$8.95</div>
<div class="t" id="t91" style="left:541.75px;top:474px;font-size:7.20px;color:#1c1a1a;font-weight:bold;-webkit-text-stroke:0.20px currentColor;transform:scaleX(0.9724);">Mac &amp; Cheese</div>
<div class="t" id="t92" style="left:640.70px;top:474px;font-size:7.60px;color:#444;-webkit-text-stroke:0.12px currentColor;transform:scaleX(1.0250);">$7.99/$18.99</div>
<div class="t" id="t93" style="left:541.75px;top:509px;font-size:7.20px;color:#1c1a1a;font-weight:bold;-webkit-text-stroke:0.20px currentColor;transform:scaleX(1.0156);">Penne a La Vodka</div>
<div class="t" id="t94" style="left:640.70px;top:509px;font-size:7.60px;color:#444;-webkit-text-stroke:0.12px currentColor;transform:scaleX(1.0250);">$8.99/$19.99</div>
<div class="t" id="t95" style="left:541.75px;top:544px;font-size:7.20px;color:#1c1a1a;font-weight:bold;-webkit-text-stroke:0.20px currentColor;transform:scaleX(1.0087);">Fettuccine Alfredo</div>
<div class="t" id="t96" style="left:640.70px;top:544px;font-size:7.60px;color:#444;-webkit-text-stroke:0.12px currentColor;transform:scaleX(1.0250);">$8.99/$19.99</div>
<svg style="left:0;top:0" width="800" height="600"><g fill="none" stroke="#8cc04a" stroke-width="1.20" stroke-linecap="round" stroke-linejoin="round"><path vector-effect="non-scaling-stroke" transform="translate(177.600 402.400) scale(11.2887 12.0000) translate(0.000 0)" d="M0.0 -1.0 L0.3 -1.0 M0.15 -1.0 L0.15 0 M0.0 0 L0.3 0"/><path vector-effect="non-scaling-stroke" transform="translate(177.600 402.400) scale(11.2887 12.0000) translate(0.390 0)" d="M0.3 -0.558 C0.18 -0.651 0.0 -0.527 0.01 -0.279 C0.02 0.03 0.22 0.04 0.31 -0.074"/><path vector-effect="non-scaling-stroke" transform="translate(177.600 402.400) scale(11.2887 12.0000) translate(0.800 0)" d="M0.03 -0.298 L0.33 -0.341 C0.33 -0.620 0.03 -0.651 0.02 -0.279 C0.01 0.03 0.26 0.05 0.33 -0.074"/><path vector-effect="non-scaling-stroke" transform="translate(177.600 402.400) scale(11.2887 12.0000) translate(1.540 0)" d="M0.5 -0.86 C0.4 -1.04 0.0 -1.04 0.0 -0.5 C0.0 0.04 0.42 0.06 0.5 -0.14"/><path vector-effect="non-scaling-stroke" transform="translate(177.600 402.400) scale(11.2887 12.0000) translate(2.130 0)" d="M0.02 -0.620 L0.02 0 M0.02 -0.372 C0.08 -0.589 0.18 -0.632 0.26 -0.558"/><path vector-effect="non-scaling-stroke" transform="translate(177.600 402.400) scale(11.2887 12.0000) translate(2.480 0)" d="M0.03 -0.298 L0.33 -0.341 C0.33 -0.620 0.03 -0.651 0.02 -0.279 C0.01 0.03 0.26 0.05 0.33 -0.074"/><path vector-effect="non-scaling-stroke" transform="translate(177.600 402.400) scale(11.2887 12.0000) translate(2.910 0)" d="M0.34 -0.527 C0.12 -0.651 0.0 -0.372 0.02 -0.155 C0.04 0.03 0.3 0.03 0.34 -0.217 M0.34 -0.620 L0.34 0"/><path vector-effect="non-scaling-stroke" transform="translate(177.600 402.400) scale(11.2887 12.0000) translate(3.360 0)" d="M0.02 -0.620 L0.02 0 M0.02 -0.434 C0.06 -0.651 0.26 -0.651 0.26 -0.372 L0.26 0 M0.26 -0.434 C0.3 -0.651 0.5 -0.651 0.5 -0.372 L0.5 0"/></g></svg>
<svg style="left:0;top:0" width="800" height="600"><g fill="none" stroke="#8cc04a" stroke-width="1.20" stroke-linecap="round" stroke-linejoin="round"><path vector-effect="non-scaling-stroke" transform="translate(186.800 510.000) scale(11.5385 12.2000) translate(0.000 0)" d="M0.02 -1.0 L0.02 0 M0.02 -1.0 C0.5 -1.02 0.48 -0.6 0.46 -0.42 C0.42 -0.05 0.2 0.0 0.02 0.0"/><path vector-effect="non-scaling-stroke" transform="translate(186.800 510.000) scale(11.5385 12.2000) translate(0.570 0)" d="M0.02 -0.620 L0.02 0 M0.02 -0.372 C0.08 -0.589 0.18 -0.632 0.26 -0.558"/><path vector-effect="non-scaling-stroke" transform="translate(186.800 510.000) scale(11.5385 12.2000) translate(0.920 0)" d="M0.03 -0.620 L0.03 0 M0.03 -0.899 L0.03 -0.818"/><path vector-effect="non-scaling-stroke" transform="translate(186.800 510.000) scale(11.5385 12.2000) translate(1.070 0)" d="M0.02 -0.620 L0.02 0 M0.02 -0.434 C0.06 -0.651 0.32 -0.651 0.32 -0.372 L0.32 0"/><path vector-effect="non-scaling-stroke" transform="translate(186.800 510.000) scale(11.5385 12.2000) translate(1.500 0)" d="M0.02 -1.0 L0.02 0 M0.3 -0.620 L0.02 -0.248 L0.32 0"/><path vector-effect="non-scaling-stroke" transform="translate(186.800 510.000) scale(11.5385 12.2000) translate(1.910 0)" d="M0.28 -0.546 C0.2 -0.632 0.02 -0.620 0.03 -0.465 C0.04 -0.310 0.28 -0.310 0.28 -0.136 C0.28 0.03 0.06 0.03 0.0 -0.062"/></g></svg>
<svg style="left:0;top:0" width="800" height="600"><g fill="none" stroke="#8cc04a" stroke-width="1.20" stroke-linecap="round" stroke-linejoin="round"><path vector-effect="non-scaling-stroke" transform="translate(590.800 433.100) scale(9.2718 11.7000) translate(0.000 0)" d="M0.02 0 L0.02 -1.0 C0.44 -1.02 0.46 -0.84 0.44 -0.72 C0.4 -0.5 0.16 -0.48 0.02 -0.5"/><path vector-effect="non-scaling-stroke" transform="translate(590.800 433.100) scale(9.2718 11.7000) translate(0.530 0)" d="M0.34 -0.527 C0.12 -0.651 0.0 -0.372 0.02 -0.155 C0.04 0.03 0.3 0.03 0.34 -0.217 M0.34 -0.620 L0.34 0"/><path vector-effect="non-scaling-stroke" transform="translate(590.800 433.100) scale(9.2718 11.7000) translate(0.980 0)" d="M0.28 -0.546 C0.2 -0.632 0.02 -0.620 0.03 -0.465 C0.04 -0.310 0.28 -0.310 0.28 -0.136 C0.28 0.03 0.06 0.03 0.0 -0.062"/><path vector-effect="non-scaling-stroke" transform="translate(590.800 433.100) scale(9.2718 11.7000) translate(1.370 0)" d="M0.1 -0.9 L0.1 -0.1 C0.1 0.02 0.18 0.02 0.24 -0.02 M0.0 -0.620 L0.24 -0.620"/><path vector-effect="non-scaling-stroke" transform="translate(590.800 433.100) scale(9.2718 11.7000) translate(1.700 0)" d="M0.34 -0.527 C0.12 -0.651 0.0 -0.372 0.02 -0.155 C0.04 0.03 0.3 0.03 0.34 -0.217 M0.34 -0.620 L0.34 0"/></g></svg>
<svg style="left:0;top:0" width="800" height="600"><g fill="none" stroke="#8cc04a" stroke-width="1.20" stroke-linecap="round" stroke-linejoin="round"><path vector-effect="non-scaling-stroke" transform="translate(590.500 591.400) scale(11.2849 11.7500) translate(0.000 0)" d="M0.0 0 L0.04 -1.0 L0.28 -0.25 L0.52 -1.0 L0.56 0"/><path vector-effect="non-scaling-stroke" transform="translate(590.500 591.400) scale(11.2849 11.7500) translate(0.650 0)" d="M0.18 -0.620 C0.0 -0.620 0.0 0.02 0.18 0.02 C0.36 0.02 0.36 -0.620 0.18 -0.620 Z"/><path vector-effect="non-scaling-stroke" transform="translate(590.500 591.400) scale(11.2849 11.7500) translate(1.100 0)" d="M0.02 -0.620 L0.02 0 M0.02 -0.372 C0.08 -0.589 0.18 -0.632 0.26 -0.558"/><path vector-effect="non-scaling-stroke" transform="translate(590.500 591.400) scale(11.2849 11.7500) translate(1.450 0)" d="M0.03 -0.298 L0.33 -0.341 C0.33 -0.620 0.03 -0.651 0.02 -0.279 C0.01 0.03 0.26 0.05 0.33 -0.074"/></g></svg>
<div class="bd" style="left:182.00px;top:335.00px;width:74.00px;height:7.50px;"><span id="b4" style="top:3.97px;font-size:5.85px;transform:scaleX(0.9546);">Regular &amp; Sugar free/Dairy</span></div>
<div class="bd" style="left:461.90px;top:343.50px;width:43.50px;height:6.80px;"><span id="b6" style="top:3.60px;font-size:5.30px;transform:scaleX(1.0502);">Bagel/Baguette</span></div>
<div class="bd" style="left:548.20px;top:439.30px;width:104.50px;height:7.50px;"><span id="b7" style="top:3.97px;font-size:5.85px;transform:scaleX(0.9385);">Single serving/Family serving (feeds 4)</span></div>
<div class="ld" style="left:216.00px;top:319.50px;width:99.50px"></div>
<div class="ld" style="left:210.00px;top:350.00px;width:105.50px"></div>
<div class="ld" style="left:590.50px;top:475.00px;width:49.10px"></div>
<div class="ld" style="left:604.50px;top:510.10px;width:35.10px"></div>
<div class="ld" style="left:606.00px;top:545.00px;width:33.60px"></div>
<svg style="left:435.40px;top:352.00px" width="19" height="19" viewBox="0 0 19 19"><rect width="19" height="19" fill="#8dc63f"/><path d="M3.4 8.6 L7.9 14.4 L15.2 3.2" fill="none" stroke="#f0fae4" stroke-width="1.8"/></svg>
<svg style="left:616.50px;top:340.00px" width="19" height="19" viewBox="0 0 19 19"><rect width="19" height="19" fill="#8dc63f"/><path d="M3.4 8.6 L7.9 14.4 L15.2 3.2" fill="none" stroke="#f0fae4" stroke-width="1.8"/></svg>
<svg style="left:616.50px;top:372.30px" width="19" height="19" viewBox="0 0 19 19"><rect width="19" height="19" fill="#8dc63f"/><path d="M3.4 8.6 L7.9 14.4 L15.2 3.2" fill="none" stroke="#f0fae4" stroke-width="1.8"/></svg>
</div></div>
</body></html>
